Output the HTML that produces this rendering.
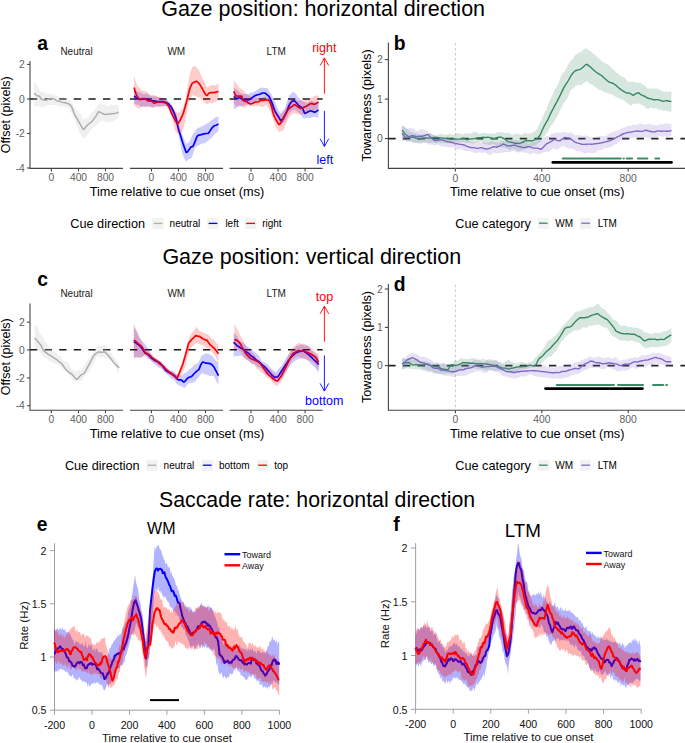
<!DOCTYPE html>
<html><head><meta charset="utf-8"><title>Figure</title>
<style>
html,body{margin:0;padding:0;background:#fff;}
body{width:685px;height:743px;overflow:hidden;}
svg{display:block;font-family:"Liberation Sans", sans-serif;}
</style></head>
<body>
<svg width="685" height="743" viewBox="0 0 685 743">
<rect width="685" height="743" fill="#fff"/>
<text x="161.2" y="16.4" font-size="21.5" text-anchor="start" fill="#000">Gaze position: horizontal direction</text>
<text x="162.4" y="263.8" font-size="21.5" text-anchor="start" fill="#000">Gaze position: vertical direction</text>
<text x="159" y="506.6" font-size="21.3" text-anchor="start" fill="#000">Saccade rate: horizontal direction</text>
<text x="37.3" y="50" font-size="19.3" text-anchor="start" fill="#000" font-weight="bold">a</text>
<text x="76.5" y="55.2" font-size="10" text-anchor="middle" fill="#1a1a1a">Neutral</text>
<text x="176.3" y="55.2" font-size="10" text-anchor="middle" fill="#1a1a1a">WM</text>
<text x="276.2" y="55.2" font-size="10" text-anchor="middle" fill="#1a1a1a">LTM</text>
<line x1="30" y1="61" x2="30" y2="168.9" stroke="#444444" stroke-width="1.1"/>
<line x1="27" y1="64.4" x2="30" y2="64.4" stroke="#444444" stroke-width="1.1"/>
<text x="24.8" y="68" font-size="10.3" text-anchor="end" fill="#606060">2</text>
<line x1="27" y1="99" x2="30" y2="99" stroke="#444444" stroke-width="1.1"/>
<text x="24.8" y="102.6" font-size="10.3" text-anchor="end" fill="#606060">0</text>
<line x1="27" y1="133.5" x2="30" y2="133.5" stroke="#444444" stroke-width="1.1"/>
<text x="24.8" y="137.1" font-size="10.3" text-anchor="end" fill="#606060">-2</text>
<line x1="27" y1="168" x2="30" y2="168" stroke="#444444" stroke-width="1.1"/>
<text x="24.8" y="171.6" font-size="10.3" text-anchor="end" fill="#606060">-4</text>
<line x1="30" y1="168.4" x2="123" y2="168.4" stroke="#444444" stroke-width="1.1"/>
<line x1="51.4" y1="168.4" x2="51.4" y2="171.4" stroke="#444444" stroke-width="1.1"/>
<text x="51.4" y="181.4" font-size="10.3" text-anchor="middle" fill="#606060">0</text>
<line x1="78.5" y1="168.4" x2="78.5" y2="171.4" stroke="#444444" stroke-width="1.1"/>
<text x="78.5" y="181.4" font-size="10.3" text-anchor="middle" fill="#606060">400</text>
<line x1="105.5" y1="168.4" x2="105.5" y2="171.4" stroke="#444444" stroke-width="1.1"/>
<text x="105.5" y="181.4" font-size="10.3" text-anchor="middle" fill="#606060">800</text>
<line x1="130" y1="168.4" x2="223" y2="168.4" stroke="#444444" stroke-width="1.1"/>
<line x1="151.4" y1="168.4" x2="151.4" y2="171.4" stroke="#444444" stroke-width="1.1"/>
<text x="151.4" y="181.4" font-size="10.3" text-anchor="middle" fill="#606060">0</text>
<line x1="178.5" y1="168.4" x2="178.5" y2="171.4" stroke="#444444" stroke-width="1.1"/>
<text x="178.5" y="181.4" font-size="10.3" text-anchor="middle" fill="#606060">400</text>
<line x1="205.5" y1="168.4" x2="205.5" y2="171.4" stroke="#444444" stroke-width="1.1"/>
<text x="205.5" y="181.4" font-size="10.3" text-anchor="middle" fill="#606060">800</text>
<line x1="229.6" y1="168.4" x2="322.6" y2="168.4" stroke="#444444" stroke-width="1.1"/>
<line x1="251" y1="168.4" x2="251" y2="171.4" stroke="#444444" stroke-width="1.1"/>
<text x="251" y="181.4" font-size="10.3" text-anchor="middle" fill="#606060">0</text>
<line x1="278.1" y1="168.4" x2="278.1" y2="171.4" stroke="#444444" stroke-width="1.1"/>
<text x="278.1" y="181.4" font-size="10.3" text-anchor="middle" fill="#606060">400</text>
<line x1="305.1" y1="168.4" x2="305.1" y2="171.4" stroke="#444444" stroke-width="1.1"/>
<text x="305.1" y="181.4" font-size="10.3" text-anchor="middle" fill="#606060">800</text>
<text x="177" y="195.5" font-size="12.75" text-anchor="middle" fill="#000">Time relative to cue onset (ms)</text>
<text transform="translate(9.7,114.7) rotate(-90)" font-size="12.5" text-anchor="middle" fill="#000">Offset (pixels)</text>
<line x1="30" y1="99" x2="123" y2="99" stroke="#1a1a1a" stroke-width="1.6" stroke-dasharray="7.3,7.3"/>
<line x1="130" y1="99" x2="223" y2="99" stroke="#1a1a1a" stroke-width="1.6" stroke-dasharray="7.3,7.3"/>
<line x1="229.6" y1="99" x2="322.6" y2="99" stroke="#1a1a1a" stroke-width="1.6" stroke-dasharray="7.3,7.3"/>
<polyline points="34.1,93.1 35.1,94.1 36.1,95 37.1,95.7 38.1,96 39.1,95.9 40.1,97.1 41.1,99.1 42.1,99.4 43.1,99.6 44.1,100 45.1,100.3 46.1,100.2 47.1,99.8 48.1,99.4 49.1,99 50.1,98.6 51.1,98.5 52.1,98.5 53.1,98.6 54.1,99.1 55.1,99.7 56.1,100.3 57.1,100.9 58.1,101.2 59.1,101.3 60.1,101.5 61.1,101.9 62.1,102.2 63.1,102.4 64.1,102.5 65.1,102.7 66.1,102.9 67.1,103.3 68.1,103.7 69.1,104 70.1,104.8 71.1,106.1 72.1,107.8 73.1,110.5 74.1,113.2 75.1,115.5 76.1,117.2 77.1,118.9 78.1,120.7 79.1,122.3 80.1,124 81.1,125.8 82.1,127.6 83.1,129.3 84.1,129.2 85.1,127.8 86.1,126.6 87.1,125.5 88.1,124.5 89.1,123.7 90.1,123 91.1,122.2 92.1,121.3 93.1,120 94.1,118.6 95.1,117.3 96.1,115.9 97.1,114 98.1,112.4 99.1,111.6 100.1,112.4 101.1,112.9 102.1,113.3 103.1,113.7 104.1,114.3 105.1,114.4 106.1,114.3 107.1,114.3 108.1,114.2 109.1,114.1 110.1,113.9 111.1,113.7 112.1,113.7 113.1,113.7 114.1,113.5 115.1,113.4 116.1,113.1 117.1,112.7 118.1,112.3 118.5,112.1" fill="none" stroke="#a6a6a6" stroke-width="1.5" stroke-linejoin="round" stroke-linecap="butt"/>
<polyline points="134.1,95.8 135.1,96.8 136.1,97.8 137.1,98.5 138.1,98.9 139.1,99.2 140.1,99.5 141.1,99.4 142.1,99.2 143.1,99.1 144.1,99 145.1,98.9 146.1,98.9 147.1,99.1 148.1,99.4 149.1,99.9 150.1,100.4 151.1,100.7 152.1,100.7 153.1,100.8 154.1,100.9 155.1,101.1 156.1,101.3 157.1,101.5 158.1,101.6 159.1,101.6 160.1,101.5 161.1,101.5 162.1,101.5 163.1,101.7 164.1,101.9 165.1,102.1 166.1,102.4 167.1,102.9 168.1,103.6 169.1,104.5 170.1,105.7 171.1,107 172.1,108.6 173.1,110.9 174.1,113.1 175.1,115.6 176.1,118.4 177.1,122.9 178.1,127.7 179.1,131.3 180.1,134.3 181.1,137.5 182.1,140.7 183.1,143.8 184.1,146.6 185.1,149.4 186.1,152.3 187.1,152.2 188.1,151 189.1,149.6 190.1,148.1 191.1,146.9 192.1,146.6 193.1,146.2 194.1,143.8 195.1,141.4 196.1,138.9 197.1,136.3 198.1,135.4 199.1,135.1 200.1,134.9 201.1,134.7 202.1,134.4 203.1,134 204.1,133.8 205.1,133.6 206.1,133.5 207.1,133.5 208.1,133.5 209.1,132.4 210.1,130.8 211.1,129.1 212.1,127.9 213.1,126.8 214.1,125.8 215.1,125.5 216.1,125.2 217.1,124.7 218.1,124.2 218.5,124.1" fill="none" stroke="#0000ff" stroke-width="1.7" stroke-linejoin="round" stroke-linecap="butt"/>
<polyline points="134.1,87.5 135.1,91.7 136.1,94.1 137.1,96.2 138.1,97.7 139.1,98.8 140.1,99.3 141.1,99 142.1,98.7 143.1,98.6 144.1,98.7 145.1,98.7 146.1,99.3 147.1,100.3 148.1,100.9 149.1,101 150.1,100.9 151.1,100.8 152.1,101.4 153.1,102.3 154.1,103.2 155.1,103 156.1,102.5 157.1,102 158.1,102.1 159.1,102.1 160.1,102.1 161.1,102.1 162.1,102.2 163.1,102.3 164.1,102.6 165.1,102.8 166.1,103 167.1,104.3 168.1,105.5 169.1,107 170.1,109.5 171.1,112.1 172.1,114.4 173.1,116.4 174.1,118.2 175.1,120.1 176.1,121.9 177.1,123.7 178.1,123.1 179.1,121.9 180.1,120.3 181.1,118.2 182.1,116.2 183.1,113.7 184.1,110.4 185.1,107.1 186.1,103.6 187.1,99.6 188.1,95.5 189.1,91.5 190.1,87.8 191.1,85.6 192.1,83.4 193.1,82.8 194.1,82.3 195.1,81.9 196.1,81.3 197.1,81.5 198.1,82.5 199.1,83.6 200.1,84.9 201.1,86.6 202.1,88.3 203.1,90.2 204.1,92 205.1,93.8 206.1,95.1 207.1,95.5 208.1,94.2 209.1,93 210.1,92.7 211.1,92.6 212.1,92.7 213.1,92.7 214.1,92.7 215.1,92.4 216.1,92.1 217.1,91.8 218.1,91.5 218.5,91.5" fill="none" stroke="#ff0000" stroke-width="1.7" stroke-linejoin="round" stroke-linecap="butt"/>
<polyline points="233.8,96.3 234.8,97.1 235.8,98 236.8,98.8 237.8,98.4 238.8,97.8 239.8,97.4 240.8,98.3 241.8,99.1 242.8,99.8 243.8,99.7 244.8,99.6 245.8,99.7 246.8,100 247.8,100 248.8,99.8 249.8,99.4 250.8,98.8 251.8,98 252.8,97.1 253.8,96.4 254.8,95.8 255.8,95.4 256.8,95 257.8,94.7 258.8,94.5 259.8,94.2 260.8,93.8 261.8,93.2 262.8,93 263.8,93 264.8,93.1 265.8,93.5 266.8,94.4 267.8,95.4 268.8,96.1 269.8,98 270.8,100.1 271.8,102.2 272.8,104.9 273.8,107.7 274.8,110.6 275.8,112.5 276.8,114.2 277.8,115.8 278.8,117.4 279.8,119.2 280.8,120.5 281.8,119.8 282.8,118.8 283.8,117.4 284.8,115.3 285.8,113.4 286.8,111.3 287.8,108.7 288.8,106.1 289.8,104.1 290.8,102.7 291.8,101.4 292.8,100.8 293.8,100.6 294.8,101 295.8,102.2 296.8,103.3 297.8,104.5 298.8,105.5 299.8,106.4 300.8,107 301.8,107.6 302.8,108.9 303.8,111.5 304.8,113.4 305.8,113 306.8,112.4 307.8,111.9 308.8,111.4 309.8,111 310.8,110.8 311.8,111 312.8,111.5 313.8,111.9 314.8,112.3 315.8,111.8 316.8,111.1 317.8,110.4 318.5,109.8" fill="none" stroke="#0000ff" stroke-width="1.7" stroke-linejoin="round" stroke-linecap="butt"/>
<polyline points="233.8,91.3 234.8,93.9 235.8,95.6 236.8,96 237.8,96.1 238.8,96 239.8,96 240.8,96.1 241.8,96.4 242.8,99.2 243.8,100.9 244.8,101.1 245.8,101.3 246.8,101.8 247.8,102.5 248.8,103.3 249.8,103.8 250.8,103.9 251.8,103.7 252.8,103.3 253.8,102.8 254.8,102.3 255.8,102 256.8,102 257.8,102 258.8,101.7 259.8,101.1 260.8,100.6 261.8,100.3 262.8,100.3 263.8,100.4 264.8,100.2 265.8,100 266.8,99.9 267.8,100 268.8,100.2 269.8,102 270.8,104 271.8,107.5 272.8,111.8 273.8,115.1 274.8,117.3 275.8,119.3 276.8,121 277.8,122.8 278.8,124.5 279.8,124.1 280.8,122.7 281.8,121.4 282.8,119.5 283.8,117.5 284.8,115.5 285.8,113.8 286.8,111.9 287.8,110 288.8,108.9 289.8,108 290.8,107.2 291.8,106.6 292.8,105.9 293.8,105 294.8,104.7 295.8,105.3 296.8,106.1 297.8,106.7 298.8,107.4 299.8,108.2 300.8,108.5 301.8,108.2 302.8,107.7 303.8,107.3 304.8,106.9 305.8,106.5 306.8,106 307.8,105.3 308.8,104.7 309.8,104.1 310.8,103.6 311.8,103.7 312.8,103.9 313.8,104.2 314.8,104.3 315.8,103.8 316.8,103.1 317.8,102.4 318.5,102.1" fill="none" stroke="#ff0000" stroke-width="1.7" stroke-linejoin="round" stroke-linecap="butt"/>
<polygon points="34.1,81.1 35.1,82.6 36.1,84.1 37.1,85.8 38.1,87.4 39.1,89.5 40.1,91.3 41.1,91.8 42.1,91.8 43.1,91.9 44.1,92.2 45.1,92.6 46.1,93.3 47.1,93.9 48.1,94.1 49.1,94 50.1,93.9 51.1,94 52.1,94.3 53.1,94.8 54.1,95.4 55.1,95.6 56.1,95.4 57.1,95.4 58.1,96 59.1,96.8 60.1,97.2 61.1,97.1 62.1,97 63.1,97.2 64.1,97.6 65.1,97.7 66.1,98 67.1,99 68.1,99.6 69.1,99.6 70.1,100.3 71.1,101.7 72.1,103.3 73.1,105 74.1,106.5 75.1,108 76.1,109.6 77.1,111 78.1,112 79.1,112.7 80.1,113.6 81.1,115.4 82.1,117.7 83.1,119.3 84.1,119.3 85.1,118.8 86.1,118.5 87.1,118.3 88.1,117.6 89.1,116 90.1,114 91.1,112.8 92.1,112.3 93.1,112.1 94.1,111.1 95.1,109.3 96.1,107.6 97.1,106.6 98.1,105.3 99.1,103.6 100.1,103.3 101.1,104.1 102.1,104.5 103.1,104.5 104.1,104.3 105.1,104.5 106.1,105.5 107.1,106.7 108.1,106.7 109.1,105.7 110.1,104.7 111.1,104.3 112.1,104.7 113.1,105.2 114.1,105.3 115.1,105 116.1,104.7 117.1,104.8 118.1,105.2 118.5,105.5 118.5,119 118.1,118.6 117.1,118.9 116.1,119.6 115.1,120.3 114.1,121 113.1,121.6 112.1,121.9 111.1,121.8 110.1,121.7 109.1,121.8 108.1,122.3 107.1,122.7 106.1,122.4 105.1,121.8 104.1,120.9 103.1,120.4 102.1,120.5 101.1,121 100.1,121.5 99.1,122.1 98.1,123.2 97.1,124.3 96.1,125.5 95.1,126.3 94.1,126.6 93.1,127.4 92.1,128.5 91.1,129.6 90.1,131 89.1,132.5 88.1,133.7 87.1,135.2 86.1,137 85.1,138.2 84.1,138.7 83.1,138.1 82.1,136.4 81.1,135 80.1,133.2 79.1,131.1 78.1,128.6 77.1,126.4 76.1,124.2 75.1,121.7 74.1,119 73.1,116.3 72.1,114.4 71.1,112.6 70.1,110.7 69.1,108.8 68.1,108.1 67.1,107.6 66.1,107.4 65.1,107.2 64.1,106.9 63.1,106.6 62.1,106.5 61.1,106.6 60.1,106.6 59.1,106.4 58.1,105.8 57.1,105.2 56.1,105 55.1,105 54.1,104.9 53.1,104.9 52.1,105 51.1,105.2 50.1,105.2 49.1,105.3 48.1,105.4 47.1,105.5 46.1,105.9 45.1,106.6 44.1,107.2 43.1,107.6 42.1,107.5 41.1,107 40.1,106.7 39.1,106.4 38.1,106.3 37.1,106.2 36.1,106.3 35.1,106.7 34.1,107" fill="#c4c4c4" fill-opacity="0.25" stroke="none"/>
<polygon points="134.1,89.9 135.1,90.2 136.1,90.4 137.1,90.9 138.1,91.4 139.1,91.8 140.1,92.3 141.1,93.1 142.1,93.8 143.1,94.1 144.1,94 145.1,94 146.1,93.8 147.1,93.6 148.1,94.1 149.1,95 150.1,95.8 151.1,96.3 152.1,96.4 153.1,96.2 154.1,96.2 155.1,96.2 156.1,96.3 157.1,96.7 158.1,97.4 159.1,97.8 160.1,97.6 161.1,97.6 162.1,98 163.1,98.5 164.1,98.7 165.1,98.7 166.1,98.6 167.1,99.5 168.1,101 169.1,102.6 170.1,103.7 171.1,104.4 172.1,105.6 173.1,107.4 174.1,109 175.1,110.9 176.1,113 177.1,117.1 178.1,121.1 179.1,124.5 180.1,127.8 181.1,131 182.1,134 183.1,136.3 184.1,138.9 185.1,141.8 186.1,143.5 187.1,143.3 188.1,142.8 189.1,142.1 190.1,140.2 191.1,138.1 192.1,135.8 193.1,133.4 194.1,131.9 195.1,130.9 196.1,129.6 197.1,128.5 198.1,127.8 199.1,127.4 200.1,127.2 201.1,126.6 202.1,126.1 203.1,125.9 204.1,125.4 205.1,124.6 206.1,123.9 207.1,123.5 208.1,123 209.1,122.2 210.1,121.4 211.1,120.6 212.1,120 213.1,119.2 214.1,118.4 215.1,117.4 216.1,116.9 217.1,116.9 218.1,117 218.5,117 218.5,131 218.1,131.6 217.1,132.3 216.1,133 215.1,133.8 214.1,134.8 213.1,136 212.1,137.1 211.1,138.2 210.1,139 209.1,139.7 208.1,140.6 207.1,141.4 206.1,142.1 205.1,143 204.1,143.6 203.1,143.6 202.1,143.6 201.1,144.1 200.1,144.7 199.1,145.2 198.1,145.6 197.1,146.1 196.1,146.7 195.1,147.4 194.1,150.4 193.1,153.6 192.1,156.9 191.1,158.1 190.1,158.7 189.1,158.9 188.1,159.6 187.1,161 186.1,161.7 185.1,159.9 184.1,158 183.1,156.1 182.1,152.2 181.1,147.1 180.1,142.1 179.1,137.2 178.1,133.2 177.1,129.2 176.1,125.1 175.1,122.3 174.1,119.9 173.1,118.1 172.1,116.3 171.1,114.3 170.1,112.2 169.1,109.7 168.1,107.2 167.1,105.8 166.1,106 165.1,106.1 164.1,106.1 163.1,106 162.1,105.9 161.1,106.2 160.1,106.6 159.1,106.7 158.1,106.5 157.1,106.1 156.1,106 155.1,106.4 154.1,107 153.1,107.4 152.1,107.2 151.1,106.8 150.1,106.5 149.1,106.6 148.1,106.5 147.1,106.4 146.1,106.5 145.1,106.9 144.1,106.9 143.1,106.8 142.1,107 141.1,106.9 140.1,106.2 139.1,105.1 138.1,104.7 137.1,104.7 136.1,104.5 135.1,104 134.1,103.6" fill="#0000ff" fill-opacity="0.2" stroke="none"/>
<polygon points="134.1,75.7 135.1,78.9 136.1,82.4 137.1,85.2 138.1,86.5 139.1,87.6 140.1,89 141.1,90.5 142.1,90.8 143.1,91 144.1,90.9 145.1,91 146.1,91.4 147.1,92 148.1,92.9 149.1,94 150.1,94.9 151.1,95.3 152.1,95 153.1,94.7 154.1,94.8 155.1,95.3 156.1,95.9 157.1,96.5 158.1,96.6 159.1,96.7 160.1,97.3 161.1,97.9 162.1,98.3 163.1,98.6 164.1,98.9 165.1,99.2 166.1,99.6 167.1,100.6 168.1,101.4 169.1,102.1 170.1,102.8 171.1,104.2 172.1,105.8 173.1,107.4 174.1,109 175.1,110.8 176.1,112 177.1,112.8 178.1,112.8 179.1,112.5 180.1,112.1 181.1,110.7 182.1,108.9 183.1,107 184.1,104.1 185.1,100.7 186.1,95.5 187.1,90.2 188.1,84.2 189.1,77.4 190.1,73.2 191.1,70.2 192.1,67.2 193.1,66.6 194.1,66.2 195.1,66 196.1,66.9 197.1,67.9 198.1,68.8 199.1,70.6 200.1,72.8 201.1,75.4 202.1,77.7 203.1,79.5 204.1,81.1 205.1,83.4 206.1,85.8 207.1,87.2 208.1,86.7 209.1,86.2 210.1,85.9 211.1,85.4 212.1,85 213.1,85.1 214.1,85.4 215.1,85.4 216.1,84.9 217.1,84.3 218.1,83.7 218.5,83.4 218.5,100.6 218.1,100.8 217.1,101.2 216.1,101.6 215.1,102 214.1,102.4 213.1,102.8 212.1,103.3 211.1,103.5 210.1,103.1 209.1,103.1 208.1,103.8 207.1,104.4 206.1,103.7 205.1,102.9 204.1,102.4 203.1,101.5 202.1,100.6 201.1,99.5 200.1,98.2 199.1,97.6 198.1,97.4 197.1,96.8 196.1,96.2 195.1,95.5 194.1,95.5 193.1,95.4 192.1,96 191.1,97.3 190.1,99.3 189.1,101.7 188.1,106.4 187.1,111.2 186.1,116.6 185.1,122.1 184.1,126.3 183.1,130.3 182.1,132.1 181.1,133.1 180.1,134 179.1,133.9 178.1,133.8 177.1,133.5 176.1,132.5 175.1,130.8 174.1,127.1 173.1,122.2 172.1,117.9 171.1,114.7 170.1,112.7 169.1,110.5 168.1,108.8 167.1,107.9 166.1,106.6 165.1,106.2 164.1,106.2 163.1,106.5 162.1,106.6 161.1,106.7 160.1,106.9 159.1,107.1 158.1,107 157.1,106.8 156.1,106.9 155.1,107.3 154.1,107.4 153.1,107.4 152.1,107.8 151.1,107.9 150.1,107.3 149.1,106.6 148.1,106.6 147.1,106.9 146.1,106.9 145.1,106.6 144.1,106.3 143.1,106 142.1,106 141.1,106.9 140.1,107.9 139.1,108.4 138.1,108.3 137.1,107.4 136.1,107 135.1,106.3 134.1,104.7" fill="#ff0000" fill-opacity="0.2" stroke="none"/>
<polygon points="233.8,87.3 234.8,88.1 235.8,88.8 236.8,89.5 237.8,90.5 238.8,91.6 239.8,92.6 240.8,93.2 241.8,93.7 242.8,94.1 243.8,94.3 244.8,94 245.8,93.8 246.8,94.1 247.8,94.3 248.8,93.9 249.8,93.1 250.8,92.5 251.8,92.5 252.8,92.4 253.8,91.9 254.8,91.3 255.8,90.8 256.8,90.3 257.8,89.6 258.8,88.8 259.8,87.9 260.8,87.4 261.8,87.4 262.8,87.8 263.8,87.9 264.8,88 265.8,88.1 266.8,88.1 267.8,88.6 268.8,90 269.8,91.9 270.8,93.8 271.8,95.3 272.8,97.6 273.8,99.9 274.8,102.1 275.8,104.4 276.8,106.6 277.8,108.6 278.8,110.3 279.8,112.1 280.8,113.3 281.8,112 282.8,110.7 283.8,109.6 284.8,108.2 285.8,105.3 286.8,102.2 287.8,99.4 288.8,96.6 289.8,94.8 290.8,94 291.8,93 292.8,91.7 293.8,92.1 294.8,92.7 295.8,93.7 296.8,95.1 297.8,96.6 298.8,97.9 299.8,99 300.8,100.1 301.8,100.6 302.8,101.1 303.8,101.7 304.8,102.3 305.8,102.7 306.8,103.2 307.8,102.8 308.8,102 309.8,101.4 310.8,101 311.8,101 312.8,101.4 313.8,102.1 314.8,102.3 315.8,102.2 316.8,102.2 317.8,102.4 318.5,102.6 318.5,117.1 317.8,117.4 316.8,117.4 315.8,117.2 314.8,116.9 313.8,116.8 312.8,116.9 311.8,117.3 310.8,117.8 309.8,118.1 308.8,118 307.8,117.9 306.8,117.9 305.8,118.1 304.8,118.6 303.8,119.1 302.8,118 301.8,116.2 300.8,114.7 299.8,113.8 298.8,113.1 297.8,112.1 296.8,111.3 295.8,110.6 294.8,109.7 293.8,109 292.8,110 291.8,111.1 290.8,111.9 289.8,112.6 288.8,114.1 287.8,116.3 286.8,118.5 285.8,120.3 284.8,121.9 283.8,122.7 282.8,123.3 281.8,123.9 280.8,123.8 279.8,122.7 278.8,121.4 277.8,120 276.8,117.8 275.8,115.9 274.8,114 273.8,111.7 272.8,109.5 271.8,108 270.8,106.2 269.8,103.9 268.8,101.4 267.8,100.5 266.8,99.5 265.8,98.8 264.8,98.5 263.8,98.5 262.8,99 261.8,99.9 260.8,100.3 259.8,100.3 258.8,100.6 257.8,101.1 256.8,101.2 255.8,101.4 254.8,102.2 253.8,103.4 252.8,104.1 251.8,103.9 250.8,103.3 249.8,103.3 248.8,103.7 247.8,104.2 246.8,104.6 245.8,104.6 244.8,104.8 243.8,105.4 242.8,105.9 241.8,105.9 240.8,105.9 239.8,105.8 238.8,106.1 237.8,106.8 236.8,107.8 235.8,108.6 234.8,108.9 233.8,109" fill="#0000ff" fill-opacity="0.2" stroke="none"/>
<polygon points="233.8,80.3 234.8,81.6 235.8,82.9 236.8,84.2 237.8,85.6 238.8,86.8 239.8,87.9 240.8,88.7 241.8,89.3 242.8,90.1 243.8,91.1 244.8,92.3 245.8,93.5 246.8,94.4 247.8,94.8 248.8,95.2 249.8,96.1 250.8,96.6 251.8,97.3 252.8,97.8 253.8,97.7 254.8,97.3 255.8,97.5 256.8,98 257.8,98 258.8,98 259.8,98.3 260.8,98.5 261.8,98.1 262.8,97.4 263.8,96.8 264.8,96.6 265.8,96.6 266.8,96.9 267.8,97.4 268.8,98 269.8,98.9 270.8,100.7 271.8,102.9 272.8,104.5 273.8,106.2 274.8,108.3 275.8,110.5 276.8,112.4 277.8,113.9 278.8,115.2 279.8,114.9 280.8,114.2 281.8,113.7 282.8,112.7 283.8,111.3 284.8,109.4 285.8,107.6 286.8,105.7 287.8,103.4 288.8,101.9 289.8,100.6 290.8,99.9 291.8,99.1 292.8,98.8 293.8,99.2 294.8,99.7 295.8,100.1 296.8,100.3 297.8,100.5 298.8,100.6 299.8,100.5 300.8,100.3 301.8,100.4 302.8,100.7 303.8,100.5 304.8,100.3 305.8,100 306.8,99.4 307.8,98.8 308.8,98.4 309.8,98.1 310.8,98 311.8,97.6 312.8,96.9 313.8,96.5 314.8,96.1 315.8,95.6 316.8,95.4 317.8,95.3 318.5,95.2 318.5,107.6 317.8,108.4 316.8,109.5 315.8,110 314.8,110.3 313.8,110.6 312.8,110.7 311.8,110.6 310.8,110.5 309.8,110.8 308.8,111.8 307.8,112.8 306.8,113.3 305.8,113.5 304.8,113.7 303.8,114.2 302.8,114.4 301.8,114.7 300.8,114.9 299.8,114.6 298.8,114.1 297.8,113.9 296.8,113.9 295.8,113.7 294.8,113.5 293.8,113.5 292.8,113.7 291.8,114.3 290.8,115.7 289.8,116.8 288.8,118 287.8,119.8 286.8,122.4 285.8,124.6 284.8,126.9 283.8,129.4 282.8,130.5 281.8,130.8 280.8,131.2 279.8,131.8 278.8,131.7 277.8,130 276.8,128.4 275.8,126.2 274.8,123.6 273.8,121 272.8,118.1 271.8,115 270.8,112.2 269.8,110.3 268.8,108.9 267.8,107.4 266.8,105.8 265.8,104.7 264.8,105.5 263.8,106.3 262.8,106.8 261.8,106.9 260.8,106.8 259.8,106.5 258.8,106.1 257.8,105.7 256.8,105.7 255.8,106.1 254.8,106.6 253.8,106.5 252.8,106.2 251.8,106.4 250.8,106.5 249.8,106 248.8,105.6 247.8,105.6 246.8,106.2 245.8,107.2 244.8,107.8 243.8,107.7 242.8,107.2 241.8,106.7 240.8,106.4 239.8,106.3 238.8,106.5 237.8,106.6 236.8,106.3 235.8,105.4 234.8,104.5 233.8,104" fill="#ff0000" fill-opacity="0.2" stroke="none"/>
<line x1="324.4" y1="57.9" x2="324.4" y2="93.8" stroke="#ff0000" stroke-width="0.9"/>
<polyline points="320.1,65.6 324.4,57.9 328.7,65.6" fill="none" stroke="#ff0000" stroke-width="0.9" stroke-linejoin="round" stroke-linecap="butt"/>
<line x1="324.4" y1="110.8" x2="324.4" y2="146.4" stroke="#0000ff" stroke-width="0.9"/>
<polyline points="320.1,138.7 324.4,146.4 328.7,138.7" fill="none" stroke="#0000ff" stroke-width="0.9" stroke-linejoin="round" stroke-linecap="butt"/>
<text x="324.3" y="52" font-size="12.5" text-anchor="middle" fill="#ff0000">right</text>
<text x="324.8" y="164" font-size="12.5" text-anchor="middle" fill="#0000ff">left</text>
<text x="37.3" y="286.1" font-size="19.3" text-anchor="start" fill="#000" font-weight="bold">c</text>
<text x="76.5" y="297.3" font-size="10" text-anchor="middle" fill="#1a1a1a">Neutral</text>
<text x="176.3" y="297.3" font-size="10" text-anchor="middle" fill="#1a1a1a">WM</text>
<text x="276.2" y="297.3" font-size="10" text-anchor="middle" fill="#1a1a1a">LTM</text>
<line x1="30" y1="303.5" x2="30" y2="410.7" stroke="#444444" stroke-width="1.1"/>
<line x1="27" y1="322.1" x2="30" y2="322.1" stroke="#444444" stroke-width="1.1"/>
<text x="24.8" y="325.7" font-size="10.3" text-anchor="end" fill="#606060">2</text>
<line x1="27" y1="349.9" x2="30" y2="349.9" stroke="#444444" stroke-width="1.1"/>
<text x="24.8" y="353.5" font-size="10.3" text-anchor="end" fill="#606060">0</text>
<line x1="27" y1="377.9" x2="30" y2="377.9" stroke="#444444" stroke-width="1.1"/>
<text x="24.8" y="381.5" font-size="10.3" text-anchor="end" fill="#606060">-2</text>
<line x1="27" y1="405.7" x2="30" y2="405.7" stroke="#444444" stroke-width="1.1"/>
<text x="24.8" y="409.3" font-size="10.3" text-anchor="end" fill="#606060">-4</text>
<line x1="30" y1="410.2" x2="123" y2="410.2" stroke="#444444" stroke-width="1.1"/>
<line x1="51.4" y1="410.2" x2="51.4" y2="413.2" stroke="#444444" stroke-width="1.1"/>
<text x="51.4" y="423.4" font-size="10.3" text-anchor="middle" fill="#606060">0</text>
<line x1="78.5" y1="410.2" x2="78.5" y2="413.2" stroke="#444444" stroke-width="1.1"/>
<text x="78.5" y="423.4" font-size="10.3" text-anchor="middle" fill="#606060">400</text>
<line x1="105.5" y1="410.2" x2="105.5" y2="413.2" stroke="#444444" stroke-width="1.1"/>
<text x="105.5" y="423.4" font-size="10.3" text-anchor="middle" fill="#606060">800</text>
<line x1="130" y1="410.2" x2="223" y2="410.2" stroke="#444444" stroke-width="1.1"/>
<line x1="151.4" y1="410.2" x2="151.4" y2="413.2" stroke="#444444" stroke-width="1.1"/>
<text x="151.4" y="423.4" font-size="10.3" text-anchor="middle" fill="#606060">0</text>
<line x1="178.5" y1="410.2" x2="178.5" y2="413.2" stroke="#444444" stroke-width="1.1"/>
<text x="178.5" y="423.4" font-size="10.3" text-anchor="middle" fill="#606060">400</text>
<line x1="205.5" y1="410.2" x2="205.5" y2="413.2" stroke="#444444" stroke-width="1.1"/>
<text x="205.5" y="423.4" font-size="10.3" text-anchor="middle" fill="#606060">800</text>
<line x1="229.6" y1="410.2" x2="322.6" y2="410.2" stroke="#444444" stroke-width="1.1"/>
<line x1="251" y1="410.2" x2="251" y2="413.2" stroke="#444444" stroke-width="1.1"/>
<text x="251" y="423.4" font-size="10.3" text-anchor="middle" fill="#606060">0</text>
<line x1="278.1" y1="410.2" x2="278.1" y2="413.2" stroke="#444444" stroke-width="1.1"/>
<text x="278.1" y="423.4" font-size="10.3" text-anchor="middle" fill="#606060">400</text>
<line x1="305.1" y1="410.2" x2="305.1" y2="413.2" stroke="#444444" stroke-width="1.1"/>
<text x="305.1" y="423.4" font-size="10.3" text-anchor="middle" fill="#606060">800</text>
<text x="177" y="438" font-size="12.75" text-anchor="middle" fill="#000">Time relative to cue onset (ms)</text>
<text transform="translate(9.7,356.7) rotate(-90)" font-size="12.5" text-anchor="middle" fill="#000">Offset (pixels)</text>
<line x1="30" y1="349.7" x2="123" y2="349.7" stroke="#1a1a1a" stroke-width="1.6" stroke-dasharray="7.3,7.3"/>
<line x1="130" y1="349.7" x2="223" y2="349.7" stroke="#1a1a1a" stroke-width="1.6" stroke-dasharray="7.3,7.3"/>
<line x1="229.6" y1="349.7" x2="322.6" y2="349.7" stroke="#1a1a1a" stroke-width="1.6" stroke-dasharray="7.3,7.3"/>
<polyline points="34.7,337.9 35.7,339 36.7,340.2 37.7,341.4 38.7,342.5 39.7,343.7 40.7,344.7 41.7,346.7 42.7,349 43.7,350.9 44.7,351.6 45.7,352.3 46.7,353.1 47.7,353.9 48.7,354.6 49.7,355.1 50.7,355.6 51.7,356.3 52.7,357 53.7,357.7 54.7,358.3 55.7,359 56.7,359.7 57.7,360.5 58.7,361.3 59.7,362 60.7,362.6 61.7,363.7 62.7,365 63.7,366.5 64.7,367.9 65.7,369.2 66.7,370.3 67.7,371.2 68.7,372.1 69.7,372.9 70.7,373.4 71.7,374 72.7,375 73.7,376.3 74.7,377.6 75.7,378.7 76.7,379.5 77.7,378.7 78.7,377.5 79.7,376.4 80.7,375.3 81.7,374.7 82.7,374.2 83.7,373.7 84.7,372.6 85.7,370.7 86.7,368.8 87.7,366.9 88.7,365.1 89.7,363.3 90.7,361.4 91.7,359.5 92.7,357.7 93.7,355.9 94.7,354.5 95.7,353.7 96.7,353 97.7,352.3 98.7,352.1 99.7,352.1 100.7,352.2 101.7,352.4 102.7,352.1 103.7,351.7 104.7,352 105.7,352.9 106.7,353.8 107.7,354.8 108.7,356 109.7,357.2 110.7,358.4 111.7,359.7 112.7,361.1 113.7,362.4 114.7,363.6 115.7,364.5 116.7,365.4 117.7,366.4 118.7,367.4 119.1,367.9" fill="none" stroke="#a6a6a6" stroke-width="1.5" stroke-linejoin="round" stroke-linecap="butt"/>
<polyline points="133.8,341.7 134.8,342.2 135.8,342.8 136.8,343.5 137.8,344.3 138.8,345.1 139.8,345.8 140.8,346.8 141.8,348.3 142.8,349.7 143.8,351.4 144.8,352.9 145.8,353.3 146.8,353.8 147.8,354.4 148.8,355.3 149.8,356.4 150.8,357.5 151.8,358.3 152.8,359.1 153.8,359.8 154.8,360.5 155.8,361 156.8,361.3 157.8,361.8 158.8,362.3 159.8,363 160.8,363.9 161.8,365 162.8,366.3 163.8,367.6 164.8,369.1 165.8,370.4 166.8,371.2 167.8,371.8 168.8,372.4 169.8,372.9 170.8,373.5 171.8,374.1 172.8,374.6 173.8,375.2 174.8,376 175.8,377.3 176.8,378.6 177.8,379.5 178.8,379.9 179.8,379.8 180.8,379.8 181.8,380.3 182.8,381.3 183.8,382 184.8,381.5 185.8,380.2 186.8,379 187.8,378.1 188.8,377.3 189.8,377.1 190.8,376.7 191.8,376.2 192.8,375.1 193.8,374 194.8,373 195.8,372 196.8,371.2 197.8,370.4 198.8,369.6 199.8,367.3 200.8,364.9 201.8,363.1 202.8,362 203.8,362.3 204.8,362.8 205.8,363.1 206.8,363.2 207.8,363.3 208.8,363.4 209.8,363.6 210.8,363.9 211.8,364.7 212.8,365.7 213.8,366.8 214.8,368.6 215.8,370.5 216.8,372.3 217.8,374.3 218.5,375.7" fill="none" stroke="#0000ff" stroke-width="1.7" stroke-linejoin="round" stroke-linecap="butt"/>
<polyline points="133.8,340.1 134.8,340.8 135.8,341.5 136.8,342.3 137.8,343.3 138.8,344.2 139.8,344.9 140.8,345.7 141.8,346.8 142.8,348.2 143.8,350.1 144.8,352.1 145.8,352.8 146.8,353.4 147.8,354 148.8,354.6 149.8,355.4 150.8,356.3 151.8,357.3 152.8,358.2 153.8,358.9 154.8,359.4 155.8,360.1 156.8,360.9 157.8,361.9 158.8,363 159.8,363.9 160.8,364.6 161.8,365.2 162.8,366 163.8,366.9 164.8,368 165.8,369.2 166.8,370.1 167.8,371 168.8,371.7 169.8,372.4 170.8,373 171.8,373.8 172.8,374.8 173.8,375.7 174.8,376.5 175.8,377.5 176.8,378.4 177.8,376.4 178.8,374.1 179.8,371.9 180.8,369.3 181.8,366.8 182.8,364.2 183.8,360.8 184.8,357.3 185.8,353.8 186.8,350 187.8,346.3 188.8,343.1 189.8,341.8 190.8,340.6 191.8,339.5 192.8,338.5 193.8,337.5 194.8,336.5 195.8,335.6 196.8,335.9 197.8,336.1 198.8,336.3 199.8,336.6 200.8,337.3 201.8,338 202.8,338.7 203.8,339.2 204.8,339.6 205.8,339.9 206.8,340.1 207.8,341.5 208.8,342.9 209.8,344.2 210.8,345.4 211.8,346.2 212.8,347.1 213.8,347.9 214.8,348.9 215.8,350.3 216.8,351.6 217.8,353 218.5,353.8" fill="none" stroke="#ff0000" stroke-width="1.7" stroke-linejoin="round" stroke-linecap="butt"/>
<polyline points="233.6,342.1 234.6,343.1 235.6,344.1 236.6,345.1 237.6,346 238.6,346.5 239.6,347.2 240.6,347.9 241.6,348.5 242.6,349 243.6,349.7 244.6,350.6 245.6,351.4 246.6,352.1 247.6,352.7 248.6,353.4 249.6,354.3 250.6,355.3 251.6,356.1 252.6,356.8 253.6,357.5 254.6,358.4 255.6,359.3 256.6,360.1 257.6,360.8 258.6,361.5 259.6,362.4 260.6,363.3 261.6,364.2 262.6,365.1 263.6,365.9 264.6,366.7 265.6,367.7 266.6,368.8 267.6,370 268.6,371.2 269.6,372.4 270.6,373.5 271.6,374.6 272.6,375.6 273.6,376.5 274.6,377.3 275.6,377.1 276.6,377 277.6,376.9 278.6,375.6 279.6,374 280.6,372.5 281.6,370.9 282.6,369.4 283.6,367.9 284.6,366.4 285.6,364.8 286.6,363.4 287.6,362 288.6,360.6 289.6,359.1 290.6,357.6 291.6,356.6 292.6,355.7 293.6,354.8 294.6,353.8 295.6,352.9 296.6,352.6 297.6,352.2 298.6,351.8 299.6,351.4 300.6,351.3 301.6,351.1 302.6,351 303.6,351.1 304.6,351.7 305.6,352.4 306.6,353.2 307.6,353.9 308.6,354.7 309.6,355.6 310.6,356.5 311.6,357.4 312.6,358.4 313.6,359.4 314.6,360.4 315.6,361.3 316.6,362.2 317.6,363.3 318.6,364.5 318.7,364.7" fill="none" stroke="#0000ff" stroke-width="1.7" stroke-linejoin="round" stroke-linecap="butt"/>
<polyline points="234.4,339.7 235.4,339.9 236.4,340.1 237.4,340.7 238.4,341.6 239.4,342.5 240.4,343.9 241.4,345.8 242.4,347.6 243.4,349.3 244.4,351.1 245.4,353.1 246.4,354.4 247.4,355.4 248.4,356.5 249.4,357.4 250.4,358.3 251.4,358.8 252.4,359.2 253.4,359.6 254.4,360 255.4,360.5 256.4,361 257.4,361.5 258.4,362.1 259.4,362.8 260.4,363.6 261.4,365.1 262.4,366.5 263.4,367.9 264.4,369.3 265.4,370.6 266.4,372 267.4,373.5 268.4,374.8 269.4,375.6 270.4,376.3 271.4,377.2 272.4,378.2 273.4,379 274.4,379.6 275.4,380.2 276.4,380.7 277.4,381 278.4,380.2 279.4,378.6 280.4,377.2 281.4,375.7 282.4,373.8 283.4,371.9 284.4,370 285.4,367.9 286.4,365.8 287.4,363.8 288.4,361.7 289.4,359.8 290.4,357.9 291.4,356.1 292.4,354.3 293.4,353.1 294.4,352.7 295.4,352.2 296.4,351.5 297.4,350.9 298.4,350.7 299.4,350.7 300.4,350.8 301.4,350.8 302.4,351 303.4,351.2 304.4,351.4 305.4,351.7 306.4,352 307.4,352.4 308.4,352.9 309.4,353.4 310.4,353.8 311.4,354.3 312.4,355 313.4,355.7 314.4,356.3 315.4,356.9 316.4,358.5 317.4,360.2 318.4,361.9 318.7,362.4" fill="none" stroke="#ff0000" stroke-width="1.7" stroke-linejoin="round" stroke-linecap="butt"/>
<polygon points="34.7,323.7 35.7,325.3 36.7,326.5 37.7,327.9 38.7,330 39.7,332.2 40.7,333.8 41.7,335.2 42.7,336.8 43.7,338.6 44.7,340.5 45.7,341.9 46.7,343.3 47.7,345.1 48.7,346.8 49.7,348.2 50.7,348.8 51.7,349.9 52.7,351 53.7,351.4 54.7,351.7 55.7,352.4 56.7,353.7 57.7,355.3 58.7,356.1 59.7,356.2 60.7,356.8 61.7,358.3 62.7,359.9 63.7,360.9 64.7,361.4 65.7,361.6 66.7,362 67.7,362.6 68.7,363.9 69.7,365.6 70.7,367.3 71.7,368.6 72.7,369.4 73.7,370.2 74.7,371.3 75.7,371.3 76.7,370.7 77.7,370 78.7,370 79.7,370 80.7,369.5 81.7,369.2 82.7,368.1 83.7,366.4 84.7,364.5 85.7,362.9 86.7,361.6 87.7,360.6 88.7,359.6 89.7,358.3 90.7,356.4 91.7,354.5 92.7,353.3 93.7,352.2 94.7,350.9 95.7,349 96.7,347 97.7,346.4 98.7,346.1 99.7,345.5 100.7,345.2 101.7,345.5 102.7,345.4 103.7,344.8 104.7,344.9 105.7,345.9 106.7,347.3 107.7,348.9 108.7,350.1 109.7,351.2 110.7,352.4 111.7,353.6 112.7,354.9 113.7,356.4 114.7,357.6 115.7,358.9 116.7,360.3 117.7,361.5 118.7,362.6 119.1,363.1 119.1,373.7 118.7,373.1 117.7,371.3 116.7,369.2 115.7,367.6 114.7,366.2 113.7,364.4 112.7,362.4 111.7,360.9 110.7,360.5 109.7,360.1 108.7,359.8 107.7,359.4 106.7,359 105.7,358.7 104.7,357.9 103.7,357.1 102.7,356.9 101.7,357.2 100.7,357.7 99.7,357.7 98.7,357 97.7,356.2 96.7,356.3 95.7,358.8 94.7,361.3 93.7,363.1 92.7,364.8 91.7,366.8 90.7,368.8 89.7,370.7 88.7,372 87.7,373 86.7,374.1 85.7,375.3 84.7,376.5 83.7,377.8 82.7,379.2 81.7,380.3 80.7,380.4 79.7,380.4 78.7,380.6 77.7,380.6 76.7,380.4 75.7,380.2 74.7,380.6 73.7,380.5 72.7,379.8 71.7,378.5 70.7,376.8 69.7,375.3 68.7,374 67.7,372.6 66.7,371.5 65.7,370.8 64.7,370.3 63.7,369.4 62.7,368.4 61.7,367.5 60.7,366.9 59.7,366 58.7,365.1 57.7,364.4 56.7,364.1 55.7,363.8 54.7,363.3 53.7,362.8 52.7,362.2 51.7,361.9 50.7,361.8 49.7,361.2 48.7,359.9 47.7,358.9 46.7,358.3 45.7,358 44.7,357.6 43.7,356.7 42.7,355.8 41.7,354.7 40.7,353.2 39.7,352 38.7,351 37.7,350.1 36.7,349.2 35.7,348.4 34.7,347.5" fill="#c4c4c4" fill-opacity="0.25" stroke="none"/>
<polygon points="133.8,326.7 134.8,328.5 135.8,330.3 136.8,332.1 137.8,333.9 138.8,336 139.8,338.2 140.8,339.6 141.8,340.7 142.8,341.6 143.8,342.7 144.8,343.8 145.8,344.9 146.8,346.3 147.8,347.8 148.8,349.2 149.8,350.9 150.8,352.9 151.8,355.1 152.8,356.7 153.8,357.2 154.8,358 155.8,359 156.8,359.5 157.8,359.9 158.8,360.7 159.8,361.8 160.8,362.9 161.8,363.9 162.8,364.5 163.8,364.9 164.8,365.4 165.8,366.4 166.8,367.4 167.8,368.3 168.8,369.1 169.8,370.2 170.8,370.7 171.8,370.8 172.8,371 173.8,371.8 174.8,372.8 175.8,373.8 176.8,374.4 177.8,374.5 178.8,374.8 179.8,375.3 180.8,375.8 181.8,375.2 182.8,374.2 183.8,373.5 184.8,373.2 185.8,372.8 186.8,371.9 187.8,370.8 188.8,370 189.8,369.3 190.8,368.5 191.8,367.4 192.8,366.4 193.8,365.3 194.8,364.4 195.8,364.1 196.8,363.7 197.8,363.2 198.8,361.7 199.8,359.5 200.8,357.1 201.8,355.3 202.8,354.6 203.8,354.7 204.8,354 205.8,353.4 206.8,353.4 207.8,353.7 208.8,354.1 209.8,354.5 210.8,354.9 211.8,355.6 212.8,356.5 213.8,357.7 214.8,359 215.8,360.3 216.8,361.3 217.8,362.1 218.5,362.6 218.5,384.5 217.8,383.5 216.8,382.2 215.8,380.3 214.8,378.1 213.8,376.3 212.8,375.9 211.8,376 210.8,376.1 209.8,375.9 208.8,375.4 207.8,375 206.8,374.7 205.8,374.6 204.8,374.4 203.8,374 202.8,373.1 201.8,373.5 200.8,374.6 199.8,375.7 198.8,376.9 197.8,378.2 196.8,379.4 195.8,380.7 194.8,381.8 193.8,382.3 192.8,382.7 191.8,382.8 190.8,382.6 189.8,382.9 188.8,383.4 187.8,383.8 186.8,385.2 185.8,386.7 184.8,387.7 183.8,387.7 182.8,387.1 181.8,386.5 180.8,385.9 179.8,385.4 178.8,385.1 177.8,384.7 176.8,384 175.8,382.5 174.8,380.7 173.8,379.6 172.8,379.3 171.8,379.1 170.8,378.2 169.8,376.9 168.8,375.8 167.8,375.1 166.8,374.3 165.8,373.1 164.8,372 163.8,371.2 162.8,370.1 161.8,369.1 160.8,368.5 159.8,368.2 158.8,367.6 157.8,366.8 156.8,366.1 155.8,365.3 154.8,364.3 153.8,363.2 152.8,362.4 151.8,361.4 150.8,360.2 149.8,359.2 148.8,359.1 147.8,358.8 146.8,357.5 145.8,355.7 144.8,355 143.8,355.3 142.8,356.2 141.8,357.2 140.8,357.7 139.8,357.7 138.8,357.4 137.8,357 136.8,357 135.8,357.5 134.8,357.8 133.8,357.6" fill="#0000ff" fill-opacity="0.2" stroke="none"/>
<polygon points="133.8,324 134.8,326 135.8,328.2 136.8,330.5 137.8,332.9 138.8,335.5 139.8,338 140.8,340 141.8,342.1 142.8,344.6 143.8,346.4 144.8,347.9 145.8,349.3 146.8,350.3 147.8,350.9 148.8,351.9 149.8,353.2 150.8,354.1 151.8,354.4 152.8,355.1 153.8,356.3 154.8,357.5 155.8,358.2 156.8,358.5 157.8,358.9 158.8,359.9 159.8,360.9 160.8,361.2 161.8,361.6 162.8,363 163.8,365 164.8,366.4 165.8,367.3 166.8,368 167.8,369 168.8,369.9 169.8,370.5 170.8,371 171.8,371.4 172.8,371.7 173.8,372.1 174.8,372.7 175.8,373.5 176.8,374.4 177.8,374.6 178.8,372.3 179.8,369.7 180.8,366.5 181.8,363.2 182.8,360.6 183.8,358.2 184.8,354.8 185.8,350.5 186.8,346 187.8,341.2 188.8,338.5 189.8,336.3 190.8,334.6 191.8,332.9 192.8,331.7 193.8,330.9 194.8,329.4 195.8,327.7 196.8,327.1 197.8,328.6 198.8,330.4 199.8,331.5 200.8,331.6 201.8,331.6 202.8,332.1 203.8,332.8 204.8,333.5 205.8,333.9 206.8,334 207.8,334.3 208.8,334.9 209.8,336.3 210.8,337.7 211.8,338.4 212.8,338.9 213.8,339.6 214.8,340.9 215.8,342.3 216.8,343.4 217.8,344.2 218.5,344.9 218.5,362.3 217.8,361.1 216.8,359.1 215.8,357.3 214.8,355.7 213.8,354.6 212.8,353.5 211.8,352.1 210.8,350.6 209.8,349.3 208.8,348.4 207.8,348.2 206.8,348.5 205.8,348.1 204.8,347 203.8,345.8 202.8,345.2 201.8,345 200.8,344.8 199.8,344.4 198.8,343.8 197.8,343.2 196.8,342.8 195.8,343.3 194.8,344.2 193.8,345.2 192.8,346 191.8,347 190.8,348.9 189.8,351 188.8,353.4 187.8,356 186.8,360.2 185.8,364.4 184.8,367.8 183.8,370 182.8,371.5 181.8,373.6 180.8,376.1 179.8,377.5 178.8,378.3 177.8,379.1 176.8,380 175.8,379.6 174.8,378.9 173.8,377.9 172.8,377.1 171.8,376.4 170.8,375.5 169.8,374.2 168.8,373.1 167.8,372.5 166.8,372.4 165.8,372.4 164.8,371.9 163.8,370.6 162.8,369.1 161.8,367.9 160.8,367.1 159.8,366.5 158.8,365.8 157.8,364.9 156.8,363.9 155.8,363.2 154.8,362.7 153.8,362.4 152.8,362 151.8,361.3 150.8,360.3 149.8,359.4 148.8,358.5 147.8,357.4 146.8,356.4 145.8,355.9 144.8,356.2 143.8,356.6 142.8,356.7 141.8,356.8 140.8,357.2 139.8,357.5 138.8,357.6 137.8,357.7 136.8,357.7 135.8,357.6 134.8,357.4 133.8,357.2" fill="#ff0000" fill-opacity="0.2" stroke="none"/>
<polygon points="233.6,332.2 234.6,333.5 235.6,334.4 236.6,335.5 237.6,337.3 238.6,339.6 239.6,341.3 240.6,342.2 241.6,342.2 242.6,342.6 243.6,343.3 244.6,344.1 245.6,345 246.6,345.7 247.6,346.2 248.6,347.1 249.6,348.2 250.6,349 251.6,349.7 252.6,350.5 253.6,351.2 254.6,352 255.6,352.9 256.6,353.7 257.6,354.3 258.6,355.2 259.6,357 260.6,359.1 261.6,360.7 262.6,361.6 263.6,362.1 264.6,362.5 265.6,363.2 266.6,363.9 267.6,364.6 268.6,365.6 269.6,366.7 270.6,367.8 271.6,368.8 272.6,369.6 273.6,370.6 274.6,371.3 275.6,371.7 276.6,371.4 277.6,370.1 278.6,368.7 279.6,367.5 280.6,366.5 281.6,365.8 282.6,364.8 283.6,362.8 284.6,360.6 285.6,358.8 286.6,357.4 287.6,355.9 288.6,354.3 289.6,352.9 290.6,351.5 291.6,350.5 292.6,349.6 293.6,349.1 294.6,348.2 295.6,347.1 296.6,346 297.6,345.5 298.6,345.4 299.6,345.1 300.6,344.7 301.6,344.5 302.6,344.6 303.6,344.9 304.6,345.6 305.6,345.8 306.6,345.6 307.6,345.6 308.6,346.5 309.6,347.7 310.6,349.1 311.6,350.3 312.6,351.3 313.6,352.1 314.6,353 315.6,354 316.6,354.9 317.6,356 318.6,357.4 318.7,358 318.7,372.2 318.6,372.2 317.6,371.2 316.6,369.9 315.6,368.6 314.6,367.5 313.6,366.5 312.6,365.5 311.6,364.4 310.6,363.4 309.6,362.3 308.6,361.3 307.6,360.5 306.6,359.8 305.6,359.3 304.6,359.1 303.6,358.6 302.6,358.6 301.6,358.5 300.6,358.5 299.6,358.7 298.6,359.1 297.6,359.4 296.6,359.9 295.6,360.5 294.6,361.1 293.6,362 292.6,362.9 291.6,363.8 290.6,364.4 289.6,365.9 288.6,367.5 287.6,369 286.6,370.5 285.6,372 284.6,373.8 283.6,376 282.6,378 281.6,378.3 280.6,378.2 279.6,378.5 278.6,379.4 277.6,380.6 276.6,381.5 275.6,381.4 274.6,380.9 273.6,380.5 272.6,379.7 271.6,378.6 270.6,376.7 269.6,375.1 268.6,374.6 267.6,374.7 266.6,374.9 265.6,374.6 264.6,373.4 263.6,371.5 262.6,369.9 261.6,368.7 260.6,367.9 259.6,367.5 258.6,367.4 257.6,367.1 256.6,366.3 255.6,365.2 254.6,364.4 253.6,364.1 252.6,364 251.6,363.7 250.6,363.1 249.6,362.1 248.6,361.2 247.6,360.6 246.6,359.8 245.6,358.8 244.6,358.1 243.6,357.4 242.6,356.5 241.6,355.7 240.6,355.6 239.6,356 238.6,356 237.6,355.9 236.6,355.9 235.6,356.2 234.6,356.4 233.6,356.4" fill="#0000ff" fill-opacity="0.2" stroke="none"/>
<polygon points="234.4,323.8 235.4,325.7 236.4,327.5 237.4,329.2 238.4,331.1 239.4,333.4 240.4,335.5 241.4,337.3 242.4,339.1 243.4,340.9 244.4,342.8 245.4,345.3 246.4,347.2 247.4,348.4 248.4,349.3 249.4,350 250.4,351 251.4,352.1 252.4,353 253.4,353.8 254.4,354.8 255.4,356.2 256.4,358 257.4,359.4 258.4,360.3 259.4,361.2 260.4,362.3 261.4,363.5 262.4,364.5 263.4,365.2 264.4,365.7 265.4,366.4 266.4,367.3 267.4,368.1 268.4,368.7 269.4,369 270.4,369.5 271.4,370.3 272.4,371.5 273.4,372.6 274.4,373.3 275.4,373.9 276.4,374.9 277.4,375.8 278.4,375.3 279.4,373.7 280.4,371.8 281.4,369.6 282.4,367.8 283.4,366.1 284.4,364.3 285.4,362 286.4,359.6 287.4,357.2 288.4,355.1 289.4,353.1 290.4,351.1 291.4,349 292.4,347.4 293.4,347.1 294.4,346.5 295.4,345.4 296.4,344.3 297.4,343.5 298.4,343 299.4,343.1 300.4,343.4 301.4,343.7 302.4,343.7 303.4,343.7 304.4,343.8 305.4,344.1 306.4,344.8 307.4,345.5 308.4,346.1 309.4,346.5 310.4,347.1 311.4,347.9 312.4,349.1 313.4,350.1 314.4,351 315.4,351.9 316.4,352.9 317.4,353.7 318.4,354.1 318.7,354 318.7,370.2 318.4,370 317.4,368.8 316.4,367.2 315.4,365.2 314.4,363.3 313.4,362.2 312.4,361.7 311.4,361 310.4,360.6 309.4,360.6 308.4,360.6 307.4,360.1 306.4,359.3 305.4,358.6 304.4,358.3 303.4,358.2 302.4,358.1 301.4,358 300.4,357.6 299.4,356.7 298.4,356.1 297.4,356.4 296.4,357 295.4,357.7 294.4,358.4 293.4,359.1 292.4,359.7 291.4,361.6 290.4,363.7 289.4,365.6 288.4,367.8 287.4,370 286.4,372 285.4,373.9 284.4,376.1 283.4,378 282.4,379.9 281.4,381.2 280.4,382.3 279.4,383.4 278.4,384.8 277.4,385.8 276.4,385.5 275.4,385 274.4,384.6 273.4,383.8 272.4,382.5 271.4,381 270.4,379.7 269.4,378.8 268.4,378.3 267.4,377.7 266.4,377.1 265.4,376.1 264.4,374.7 263.4,373.6 262.4,372.9 261.4,372.1 260.4,371.4 259.4,370.6 258.4,369.6 257.4,368.9 256.4,368 255.4,366.6 254.4,365.1 253.4,364.1 252.4,363.7 251.4,362.9 250.4,361.7 249.4,361.2 248.4,360.8 247.4,360.1 246.4,359.4 245.4,359.1 244.4,358 243.4,356.3 242.4,354.2 241.4,352.3 240.4,351.5 239.4,351.3 238.4,350.3 237.4,349.3 236.4,348.8 235.4,348.8 234.4,348.7" fill="#ff0000" fill-opacity="0.2" stroke="none"/>
<line x1="324.4" y1="306.2" x2="324.4" y2="341.8" stroke="#ff0000" stroke-width="0.9"/>
<polyline points="320.1,313.9 324.4,306.2 328.7,313.9" fill="none" stroke="#ff0000" stroke-width="0.9" stroke-linejoin="round" stroke-linecap="butt"/>
<line x1="324.4" y1="355.4" x2="324.4" y2="391.1" stroke="#0000ff" stroke-width="0.9"/>
<polyline points="320.1,383.4 324.4,391.1 328.7,383.4" fill="none" stroke="#0000ff" stroke-width="0.9" stroke-linejoin="round" stroke-linecap="butt"/>
<text x="324.5" y="300.8" font-size="12.5" text-anchor="middle" fill="#ff0000">top</text>
<text x="324.2" y="405.3" font-size="12.5" text-anchor="middle" fill="#0000ff">bottom</text>
<text x="393.7" y="49.6" font-size="19.3" text-anchor="start" fill="#000" font-weight="bold">b</text>
<line x1="388.4" y1="42.4" x2="388.4" y2="168.9" stroke="#444444" stroke-width="1.1"/>
<line x1="384.8" y1="59.6" x2="388.4" y2="59.6" stroke="#444444" stroke-width="1.1"/>
<text x="382.8" y="63.2" font-size="10.3" text-anchor="end" fill="#606060">2</text>
<line x1="384.8" y1="99.1" x2="388.4" y2="99.1" stroke="#444444" stroke-width="1.1"/>
<text x="382.8" y="102.7" font-size="10.3" text-anchor="end" fill="#606060">1</text>
<line x1="384.8" y1="138.6" x2="388.4" y2="138.6" stroke="#444444" stroke-width="1.1"/>
<text x="382.8" y="142.2" font-size="10.3" text-anchor="end" fill="#606060">0</text>
<line x1="388.4" y1="168.4" x2="685" y2="168.4" stroke="#444444" stroke-width="1.1"/>
<line x1="455.4" y1="168.4" x2="455.4" y2="171.4" stroke="#444444" stroke-width="1.1"/>
<text x="455.4" y="181.6" font-size="10.3" text-anchor="middle" fill="#606060">0</text>
<line x1="541.8" y1="168.4" x2="541.8" y2="171.4" stroke="#444444" stroke-width="1.1"/>
<text x="541.8" y="181.6" font-size="10.3" text-anchor="middle" fill="#606060">400</text>
<line x1="628.2" y1="168.4" x2="628.2" y2="171.4" stroke="#444444" stroke-width="1.1"/>
<text x="628.2" y="181.6" font-size="10.3" text-anchor="middle" fill="#606060">800</text>
<text x="537.2" y="195.5" font-size="12.75" text-anchor="middle" fill="#000">Time relative to cue onset (ms)</text>
<text transform="translate(371.3,105.4) rotate(-90)" font-size="12.7" text-anchor="middle" fill="#000">Towardness (pixels)</text>
<line x1="455.4" y1="43" x2="455.4" y2="168.4" stroke="#bdbdbd" stroke-width="0.8" stroke-dasharray="2.6,2.4"/>
<line x1="388.4" y1="138.6" x2="685" y2="138.6" stroke="#262626" stroke-width="1.6" stroke-dasharray="7.3,7.3"/>
<polyline points="402,130.1 403,131.4 404,132.7 405,134 406,134.8 407,135.5 408,136.2 409,136.8 410,137 411,137.1 412,137.3 413,137.3 414,137.4 415,137.7 416,138.1 417,138.4 418,138.8 419,139.1 420,138.8 421,138.6 422,138.4 423,138.3 424,138.1 425,137.9 426,138 427,138.1 428,138.1 429,138.1 430,137.9 431,137.9 432,137.8 433,137.7 434,137.5 435,137.4 436,137.5 437,137.5 438,137.7 439,137.8 440,137.9 441,137.9 442,138 443,138.1 444,138.4 445,138.5 446,138.4 447,138.3 448,138.3 449,138.6 450,139 451,139.2 452,139.2 453,139 454,138.9 455,138.9 456,139 457,139.1 458,139.1 459,139.1 460,139 461,138.8 462,138.6 463,138.2 464,138.4 465,138.7 466,139.3 467,139.8 468,139.6 469,139.3 470,139.1 471,138.9 472,138.9 473,138.8 474,138.6 475,138.4 476,138.3 477,138.1 478,137.8 479,137.7 480,137.7 481,137.6 482,137.4 483,137.3 484,137.4 485,137.5 486,137.5 487,137.4 488,137.3 489,137.4 490,137.7 491,138 492,138.3 493,138.6 494,138.7 495,138.5 496,138.1 497,137.7 498,137.3 499,137.2 500,137.1 501,137.1 502,137.7 503,138.2 504,138.7 505,139.3 506,140 507,140.9 508,141.4 509,141.8 510,142.1 511,142.2 512,142.4 513,142.7 514,143.1 515,143.3 516,143.3 517,143.3 518,143.4 519,143.6 520,143.2 521,142.9 522,142.5 523,142 524,141.5 525,140.9 526,140.8 527,140.7 528,140.6 529,140.7 530,140.8 531,140.8 532,140.7 533,140.5 534,140.1 535,139.7 536,139.4 537,139 538,137.8 539,136.5 540,135.2 541,133.1 542,130.8 543,128.5 544,126.4 545,124.7 546,122.9 547,121.2 548,119.4 549,117.2 550,114.9 551,112.8 552,110.9 553,109 554,107.1 555,105.2 556,103.4 557,101.6 558,99.6 559,97.6 560,95.7 561,93.6 562,91.4 563,89.4 564,87.4 565,85.7 566,84.1 567,82.6 568,81 569,79.3 570,77.5 571,75.7 572,74.3 573,73 574,71.9 575,70.9 576,70.5 577,70.2 578,69.9 579,69.7 580,69.4 581,68.8 582,68 583,67.3 584,66.3 585,65.3 586,64.5 587,64.4 588,65.1 589,65.9 590,66.6 591,67.6 592,68.5 593,69.4 594,70.3 595,71.2 596,72 597,72.7 598,73.4 599,74.1 600,74.7 601,75.2 602,75.9 603,76.8 604,77.8 605,78.7 606,79.5 607,80.4 608,81.3 609,82 610,82.4 611,82.6 612,83 613,83.4 614,84 615,84.7 616,85.3 617,86.2 618,87.2 619,88.1 620,88.9 621,89.6 622,90.3 623,91 624,91.5 625,92.1 626,92.6 627,93 628,93 629,93.1 630,93.4 631,94 632,94.7 633,95.3 634,94.8 635,94.2 636,93.6 637,93.1 638,92.8 639,93 640,94 641,94.7 642,95.1 643,95.6 644,96 645,96.5 646,97.1 647,97.7 648,98.3 649,98.5 650,98.6 651,98.8 652,99.2 653,99.7 654,99.8 655,99.8 656,99.6 657,99.6 658,99.8 659,99.9 660,100.2 661,100.7 662,101.1 663,101.2 664,101.1 665,100.9 666,100.6 667,100.7 668,101 669,101.2 670,101.4 671,101.5 671.4,101.6" fill="none" stroke="#35895f" stroke-width="1.4" stroke-linejoin="round" stroke-linecap="butt"/>
<polyline points="402,133.1 403,134.5 404,135.9 405,137.3 406,137.2 407,137.1 408,137 409,136.7 410,136.4 411,135.9 412,135.8 413,135.8 414,136 415,136.2 416,136.5 417,136.7 418,136.4 419,136.2 420,136.1 421,136.2 422,136.2 423,136 424,135.7 425,135.3 426,135 427,134.7 428,134.4 429,135.6 430,136.8 431,138 432,138.8 433,139.5 434,140.1 435,140.8 436,140.6 437,140.4 438,140.2 439,140 440,139.7 441,139.6 442,139.9 443,140.3 444,140.5 445,140.8 446,141.2 447,141.5 448,141.7 449,141.9 450,142 451,142.2 452,142.5 453,142.8 454,143.2 455,143.5 456,143.6 457,143.7 458,143.9 459,144.2 460,144.4 461,144.5 462,144.6 463,144.7 464,145 465,145.4 466,145.8 467,146.3 468,146.7 469,147.1 470,147.3 471,147.5 472,147.6 473,147.6 474,147.6 475,147.9 476,148.1 477,148.4 478,148.4 479,148.2 480,147.9 481,147.6 482,147.9 483,148.2 484,148.6 485,148.7 486,148.8 487,149.1 488,148.8 489,148.6 490,148.2 491,147.8 492,147.3 493,146.8 494,146.8 495,146.9 496,147 497,147.2 498,146.7 499,146.3 500,145.9 501,145.4 502,144.7 503,144 504,144.3 505,144.7 506,145.2 507,145.8 508,145.9 509,146 510,145.9 511,145.7 512,145.5 513,145.4 514,145.3 515,145.2 516,145.5 517,145.9 518,146.3 519,146.6 520,146.7 521,146.8 522,147.2 523,147.6 524,147.6 525,147.4 526,147.2 527,147 528,146.7 529,146.6 530,146.8 531,147.2 532,147.7 533,147.9 534,148.1 535,148.1 536,148.1 537,148.1 538,148.4 539,148.7 540,149 541,149.4 542,148.6 543,147.5 544,146.5 545,145.4 546,144.2 547,143.6 548,143.1 549,142.6 550,142.1 551,141.5 552,140.9 553,140.3 554,139.7 555,139.4 556,139.8 557,140.3 558,140.6 559,140.9 560,140.7 561,140 562,139.3 563,138.6 564,137.9 565,137.5 566,137.6 567,137.8 568,137.9 569,138.1 570,138.5 571,139.1 572,139.8 573,140.7 574,141.4 575,142.1 576,142.5 577,142.9 578,143.2 579,143.4 580,143.7 581,144.2 582,144.3 583,144.4 584,144.4 585,144.4 586,144.3 587,144.2 588,144.1 589,144.1 590,144.1 591,144.2 592,144.2 593,144.1 594,143.9 595,143.8 596,143.7 597,143.6 598,143.4 599,143.3 600,143.1 601,142.9 602,142.8 603,142.5 604,142.2 605,141.9 606,141.7 607,141.5 608,141.2 609,141 610,140.7 611,140.3 612,139.7 613,139.1 614,138.6 615,138.2 616,137.7 617,137.1 618,136.6 619,136.1 620,135.6 621,135 622,134.5 623,134 624,133.6 625,133.3 626,132.9 627,132.6 628,132.5 629,132.4 630,132.3 631,132.1 632,131.9 633,131.7 634,131.4 635,131.4 636,131.2 637,130.9 638,131 639,131.2 640,131.4 641,131.4 642,131.3 643,131.1 644,130.8 645,130.4 646,130.3 647,130.5 648,130.8 649,131.1 650,131.3 651,131.5 652,131.8 653,131.9 654,131.9 655,131.8 656,131.5 657,131.2 658,130.9 659,130.8 660,131.1 661,131.2 662,131.2 663,131.1 664,131.1 665,131.1 666,131.2 667,131.3 668,131.3 669,131.2 670,130.9 671,130.7 671.4,130.7" fill="none" stroke="#8468c8" stroke-width="1.4" stroke-linejoin="round" stroke-linecap="butt"/>
<polygon points="402,125.5 403,126.2 404,126.6 405,126.9 406,127.4 407,128.4 408,129.7 409,131 410,131.7 411,131.8 412,132.1 413,132.7 414,132.9 415,133.1 416,133.2 417,133.7 418,134.2 419,134.5 420,134.8 421,134.9 422,134.6 423,134.2 424,134.2 425,134.5 426,134.6 427,134.5 428,134.1 429,133.5 430,133.1 431,133.4 432,134.2 433,134.8 434,135.1 435,135 436,135.1 437,135.1 438,134.8 439,134.1 440,133.8 441,133.7 442,133.8 443,134.2 444,134.6 445,134.7 446,134.7 447,134.4 448,133.9 449,133.7 450,133.8 451,134.1 452,134.7 453,135 454,134.9 455,134.4 456,133.6 457,133.1 458,133 459,133.4 460,133.8 461,134.2 462,134.5 463,134.4 464,134 465,133.6 466,133.5 467,133.4 468,133.2 469,133.1 470,133.4 471,133.6 472,132.9 473,132 474,131.4 475,131.5 476,132.1 477,132.6 478,133.2 479,133.8 480,133.8 481,133.2 482,133 483,133 484,133 485,132.9 486,133.2 487,133.4 488,133.5 489,133.5 490,133.6 491,133.6 492,133.5 493,133.6 494,133.7 495,133.4 496,132.7 497,132.2 498,132 499,132.1 500,132.4 501,132.3 502,132.1 503,132.5 504,133 505,133.1 506,133.1 507,133.2 508,132.9 509,132.6 510,132.9 511,133.8 512,134.7 513,134.9 514,134.4 515,133.8 516,133.6 517,133.7 518,133.9 519,134.1 520,134.4 521,134.7 522,134.5 523,134 524,133.2 525,132.8 526,133.2 527,133.8 528,133.9 529,133.6 530,133.4 531,133.2 532,132.9 533,132.4 534,131.7 535,131 536,130.2 537,129 538,126.8 539,124.9 540,122.9 541,120.7 542,118.6 543,116.4 544,114 545,111.8 546,110 547,107.8 548,104.8 549,101.9 550,99.7 551,98 552,96.1 553,93.9 554,91.6 555,89.5 556,87.8 557,86.1 558,84.1 559,81.8 560,79 561,76.4 562,74.4 563,73 564,71.9 565,71 566,69.5 567,67.2 568,64.8 569,63 570,61.7 571,60.7 572,59.8 573,58.5 574,56.8 575,55.3 576,54.4 577,54 578,53.6 579,52.9 580,52 581,51.7 582,51.3 583,50.3 584,49.3 585,48.8 586,48.4 587,48.8 588,50 589,50.7 590,50.9 591,51.5 592,52.4 593,53.2 594,54 595,55 596,56 597,56.8 598,57.5 599,58.5 600,59.5 601,60.5 602,61.6 603,62.3 604,62.7 605,63.1 606,63.4 607,63.9 608,64.8 609,65.7 610,66.5 611,67.3 612,68.4 613,69.2 614,70.1 615,71.2 616,72.2 617,72.9 618,73.7 619,74.4 620,75.2 621,76 622,76.4 623,77 624,77.6 625,78.3 626,79.3 627,80.7 628,81.6 629,81.9 630,82.1 631,82 632,81.8 633,81.6 634,81.8 635,82.2 636,82.6 637,82.9 638,82.9 639,82.8 640,82.8 641,83 642,83.7 643,84.4 644,85 645,85.7 646,86.8 647,88.1 648,88.8 649,88.5 650,88.2 651,88.4 652,88.7 653,88.8 654,88.6 655,88.4 656,88.4 657,88.5 658,88.9 659,89.4 660,90 661,90.6 662,91.1 663,91.3 664,91.4 665,91.4 666,91.7 667,91.7 668,91.8 669,91.8 670,91.5 671,91.1 671.4,91.2 671.4,112 671,111.9 670,111.6 669,111.3 668,111.3 667,111.1 666,110.6 665,110.6 664,110.7 663,110.4 662,110 661,109.5 660,109.5 659,109.8 658,109.5 657,108.7 656,108.1 655,108.2 654,108.4 653,108.4 652,107.9 651,107.6 650,108 649,108.6 648,109 647,108.7 646,107.8 645,106.8 644,106.1 643,105.5 642,105.2 641,104.8 640,104.1 639,103.4 638,103.2 637,103.5 636,103.8 635,103.8 634,103.5 633,103.7 632,104.7 631,105.5 630,105.5 629,104.6 628,103.6 627,103.1 626,102.6 625,101.6 624,100.5 623,99.8 622,99.5 621,99.4 620,99 619,98.4 618,97.9 617,97.7 616,97.1 615,96.4 614,95.9 613,95.3 612,94.6 611,94.1 610,93.9 609,93.8 608,93.3 607,92.8 606,92.6 605,92.6 604,92.2 603,91.4 602,90.5 601,90.1 600,90.2 599,90.1 598,89.1 597,88 596,87.3 595,86.8 594,86.1 593,85.1 592,84.4 591,84.3 590,84.2 589,83.1 588,82 587,81.6 586,81.7 585,82.1 584,82.7 583,83.6 582,84.5 581,84.9 580,85 579,84.9 578,84.9 577,85.3 576,85.8 575,86.5 574,87.7 573,88.6 572,89.1 571,89.8 570,91.7 569,94.3 568,96.7 567,98.7 566,100.3 565,101.4 564,102.7 563,104.5 562,106.6 561,108.5 560,110.5 559,112.7 558,114.8 557,116.7 556,118.3 555,120 554,121.9 553,123.7 552,124.8 551,125.8 550,127.4 549,129.6 548,131.4 547,132.6 546,133.7 545,135 544,136.3 543,137.3 542,138.8 541,140.6 540,142.2 539,142.9 538,143.3 537,144.1 536,144.9 535,146 534,146.6 533,146.4 532,146 531,146 530,146 529,146.4 528,147.2 527,148.2 526,149.1 525,149.6 524,149.5 523,149.5 522,150 521,150.4 520,150.9 519,151.6 518,151.5 517,150.9 516,150.1 515,149.7 514,149.4 513,149 512,149.2 511,149.8 510,150.3 509,150 508,149.2 507,148.5 506,148 505,147.7 504,147.8 503,147.8 502,147.5 501,147.2 500,147 499,147.1 498,147.1 497,146.7 496,145.8 495,144.8 494,144.1 493,143.9 492,144.1 491,144.6 490,144.9 489,144.9 488,144.7 487,144.4 486,144.2 485,144.3 484,144.2 483,143.3 482,142.3 481,142 480,142.5 479,143 478,143 477,142.7 476,142.8 475,143.2 474,143.6 473,143.5 472,143.2 471,143 470,142.8 469,142.8 468,143 467,143 466,142.7 465,142.2 464,142.1 463,142.3 462,142.3 461,142.3 460,142.3 459,142.5 458,142.5 457,142.4 456,142.4 455,142.8 454,143 453,142.6 452,142.5 451,143.3 450,143.7 449,143.3 448,143 447,143.2 446,143.5 445,143.5 444,143 443,142.5 442,142.9 441,143.5 440,143.3 439,142.7 438,142.8 437,143.3 436,143.3 435,142.7 434,142.6 433,142.8 432,142.7 431,142.7 430,143 429,143 428,142.6 427,142.3 426,142.6 425,142.9 424,142.8 423,142.8 422,143.2 421,143.8 420,144.1 419,143.7 418,143.1 417,142.9 416,143.1 415,143.3 414,143.2 413,142.7 412,142 411,141.3 410,141.3 409,141.5 408,141.6 407,141.4 406,140.7 405,140.1 404,140.1 403,140.4 402,140.5" fill="#35895f" fill-opacity="0.2" stroke="none"/>
<polygon points="402,125.5 403,125.8 404,126.8 405,128.1 406,128.9 407,129.1 408,128.7 409,128.3 410,128.1 411,128.2 412,128.3 413,128.3 414,128.6 415,129.6 416,130.6 417,131.2 418,130.9 419,130.3 420,129.8 421,129.3 422,129.1 423,129.4 424,130 425,130.1 426,130.5 427,131.2 428,132.2 429,132.9 430,133.1 431,133.3 432,133.8 433,134.7 434,135.4 435,135.7 436,135.8 437,136.2 438,136.6 439,137.1 440,137.5 441,138 442,138.3 443,138.2 444,137.7 445,137.3 446,137.6 447,138.4 448,139.3 449,139.9 450,139.9 451,139.5 452,139.3 453,139.2 454,139.1 455,138.9 456,139 457,139.2 458,139.4 459,139.5 460,139.7 461,140 462,140.2 463,140.3 464,140.3 465,140.7 466,141.2 467,141.3 468,141.1 469,140.9 470,141 471,141.6 472,142.1 473,142.3 474,142.4 475,142.4 476,142.3 477,142.6 478,143 479,143.2 480,143 481,142.9 482,142.5 483,141.8 484,141.6 485,142.1 486,142.5 487,142.8 488,142.7 489,142.1 490,141.2 491,140.9 492,141.3 493,141.8 494,142 495,142.1 496,142.3 497,142.8 498,143 499,142.5 500,141.7 501,141.2 502,141.1 503,140.9 504,141 505,141.2 506,141.4 507,141.3 508,141.2 509,141 510,140.2 511,139.4 512,139.5 513,140 514,140.3 515,140 516,140 517,140.2 518,140.4 519,140.5 520,140.5 521,140.8 522,141 523,141 524,141.1 525,141.6 526,142.1 527,142.6 528,143.2 529,143.7 530,143.6 531,142.6 532,141.9 533,141.7 534,141.9 535,141.8 536,141.1 537,140 538,139.3 539,139.3 540,139.1 541,138.7 542,138.3 543,137.9 544,137.2 545,136.6 546,136.3 547,136 548,136 549,136 550,135.4 551,134.3 552,133.5 553,133.5 554,133.6 555,133.1 556,132.5 557,132.2 558,132.3 559,132.8 560,133.1 561,133 562,132.5 563,132.3 564,132.1 565,131.9 566,132.1 567,132.7 568,132.9 569,132.8 570,132.5 571,132.3 572,132.5 573,133.4 574,134.6 575,135.4 576,135.5 577,135.2 578,134.9 579,134.9 580,135.2 581,135.6 582,135.9 583,135.9 584,135.7 585,135.4 586,135.5 587,135.8 588,136.3 589,137 590,137.3 591,137.6 592,137.8 593,137.7 594,137.5 595,137.4 596,137.2 597,136.8 598,136.3 599,135.8 600,135.7 601,136 602,136.2 603,136 604,135.9 605,136 606,135.9 607,135.4 608,134.6 609,133.7 610,133 611,132.5 612,132.1 613,131.9 614,131.7 615,131.1 616,130.5 617,130.6 618,130.6 619,130.2 620,129.4 621,128.5 622,127.7 623,127.4 624,127.4 625,127.4 626,126.9 627,126.3 628,125.9 629,125.8 630,126 631,125.8 632,125.2 633,124.6 634,124.6 635,125 636,125.3 637,124.9 638,124.2 639,123.6 640,123.5 641,123.8 642,124.3 643,124.5 644,124.5 645,124.4 646,124.5 647,124.5 648,124.1 649,123.8 650,124 651,124.2 652,124.6 653,124.8 654,124.9 655,124.9 656,125.1 657,125.4 658,125.3 659,124.7 660,124.1 661,124.1 662,124.3 663,124.3 664,124 665,123.7 666,123.2 667,123 668,123.4 669,124.1 670,124.2 671,123.8 671.4,123.5 671.4,136.1 671,135.8 670,136 669,136.5 668,136.8 667,136.9 666,136.8 665,136.4 664,136.2 663,136.4 662,136.5 661,136.3 660,136 659,136.1 658,136.7 657,137.3 656,137.4 655,137.2 654,137.2 653,137.4 652,137.9 651,138.3 650,138.5 649,138.5 648,138.3 647,137.7 646,137.1 645,137.3 644,138 643,138.3 642,138.1 641,137.7 640,137.7 639,137.9 638,137.9 637,137.5 636,137.4 635,137.7 634,137.8 633,137.6 632,137.6 631,138 630,138.1 629,138.2 628,138.8 627,139.6 626,140.1 625,140.2 624,140.3 623,140.1 622,139.7 621,139.8 620,140.7 619,142.1 618,143.2 617,143.8 616,144 615,144.2 614,144.7 613,145.7 612,146.6 611,147.1 610,147.2 609,147.4 608,147.8 607,148.1 606,148.1 605,148.1 604,148.6 603,149.5 602,150 601,150.1 600,150.2 599,150.5 598,150.9 597,151.1 596,151.8 595,152.5 594,152.9 593,152.9 592,152.9 591,153 590,153 589,152.8 588,152.5 587,152.7 586,153.3 585,153.6 584,153.4 583,152.7 582,152.1 581,151.6 580,151.3 579,151.3 578,151.6 577,151.6 576,151 575,150.3 574,149.5 573,149 572,148.8 571,148.6 570,148.4 569,148.4 568,148.5 567,148 566,147.2 565,146.8 564,146.4 563,146.1 562,146.2 561,146.8 560,147.8 559,148.6 558,149.2 557,149.6 556,149.4 555,148.9 554,148.5 553,148.3 552,148.9 551,150 550,151 549,151.7 548,151.7 547,151.6 546,151.9 545,152.2 544,152.2 543,152.4 542,153 541,153.5 540,153.8 539,154.3 538,154.5 537,154.1 536,153.7 535,153.4 534,153.1 533,153.1 532,153.6 531,154.4 530,154.7 529,153.8 528,152.8 527,152.7 526,153 525,152.9 524,152.5 523,152.1 522,152.1 521,152.3 520,152.3 519,152.3 518,152.4 517,152.5 516,152.2 515,151.4 514,150.9 513,150.9 512,151.2 511,151.8 510,152.2 509,152.2 508,152 507,152.1 506,152.1 505,151.9 504,152 503,152.5 502,152.9 501,153.1 500,153.2 499,153.2 498,153.2 497,153.4 496,153.3 495,153 494,152.8 493,153 492,153.7 491,154.6 490,155 489,154.9 488,154.5 487,153.9 486,153.1 485,152.4 484,152.4 483,152.8 482,153 481,152.8 480,152.6 479,152.5 478,152.4 477,152.6 476,152.9 475,153.1 474,152.9 473,152.5 472,151.8 471,151.2 470,150.9 469,150.8 468,151 467,151.1 466,151.1 465,151 464,150.8 463,150.2 462,149.6 461,149.2 460,149.1 459,149.3 458,149.5 457,149.6 456,149.2 455,148.2 454,147.3 453,147.1 452,147.4 451,147.5 450,147.2 449,147.2 448,147.4 447,147 446,146.6 445,146.7 444,146.8 443,146.8 442,146.6 441,146.3 440,145.8 439,145.3 438,144.8 437,144.6 436,145.1 435,145.7 434,145.7 433,145.1 432,144.7 431,144.7 430,144.8 429,144.3 428,143.7 427,143.4 426,143.1 425,142.4 424,142 423,142.3 422,142.8 421,142.5 420,142 419,142.2 418,142.9 417,143.1 416,142.8 415,142.3 414,142 413,142 412,142 411,141.8 410,141.4 409,141 408,141 407,141 406,141.2 405,141.1 404,140.4 403,139.8 402,139.9" fill="#8468c8" fill-opacity="0.2" stroke="none"/>
<line x1="562.8" y1="158.5" x2="620.7" y2="158.5" stroke="#3a8c66" stroke-width="2.2" stroke-linecap="round"/>
<line x1="623.7" y1="158.5" x2="623.8" y2="158.5" stroke="#3a8c66" stroke-width="2.2" stroke-linecap="round"/>
<line x1="626.8" y1="158.5" x2="632" y2="158.5" stroke="#3a8c66" stroke-width="2.2" stroke-linecap="round"/>
<line x1="638" y1="158.5" x2="647.3" y2="158.5" stroke="#3a8c66" stroke-width="2.2" stroke-linecap="round"/>
<line x1="655.4" y1="158.5" x2="659.1" y2="158.5" stroke="#3a8c66" stroke-width="2.2" stroke-linecap="round"/>
<line x1="552.8" y1="162.4" x2="671.5" y2="162.4" stroke="#000" stroke-width="2.7" stroke-linecap="round"/>
<text x="393.7" y="291" font-size="19.3" text-anchor="start" fill="#000" font-weight="bold">d</text>
<line x1="388.4" y1="284" x2="388.4" y2="410.7" stroke="#444444" stroke-width="1.1"/>
<line x1="384.8" y1="289" x2="388.4" y2="289" stroke="#444444" stroke-width="1.1"/>
<text x="382.8" y="292.6" font-size="10.3" text-anchor="end" fill="#606060">2</text>
<line x1="384.8" y1="327.4" x2="388.4" y2="327.4" stroke="#444444" stroke-width="1.1"/>
<text x="382.8" y="331" font-size="10.3" text-anchor="end" fill="#606060">1</text>
<line x1="384.8" y1="365.6" x2="388.4" y2="365.6" stroke="#444444" stroke-width="1.1"/>
<text x="382.8" y="369.2" font-size="10.3" text-anchor="end" fill="#606060">0</text>
<line x1="388.4" y1="410.2" x2="685" y2="410.2" stroke="#444444" stroke-width="1.1"/>
<line x1="455.4" y1="410.2" x2="455.4" y2="413.2" stroke="#444444" stroke-width="1.1"/>
<text x="455.4" y="423.4" font-size="10.3" text-anchor="middle" fill="#606060">0</text>
<line x1="541.8" y1="410.2" x2="541.8" y2="413.2" stroke="#444444" stroke-width="1.1"/>
<text x="541.8" y="423.4" font-size="10.3" text-anchor="middle" fill="#606060">400</text>
<line x1="628.2" y1="410.2" x2="628.2" y2="413.2" stroke="#444444" stroke-width="1.1"/>
<text x="628.2" y="423.4" font-size="10.3" text-anchor="middle" fill="#606060">800</text>
<text x="537.2" y="438" font-size="12.75" text-anchor="middle" fill="#000">Time relative to cue onset (ms)</text>
<text transform="translate(371.3,347) rotate(-90)" font-size="12.7" text-anchor="middle" fill="#000">Towardness (pixels)</text>
<line x1="455.4" y1="284.6" x2="455.4" y2="410.2" stroke="#bdbdbd" stroke-width="0.8" stroke-dasharray="2.6,2.4"/>
<line x1="388.4" y1="365.6" x2="685" y2="365.6" stroke="#262626" stroke-width="1.6" stroke-dasharray="7.3,7.3"/>
<polyline points="402,364 403,363.6 404,363.2 405,362.9 406,362.8 407,362.8 408,362.7 409,362.5 410,363.2 411,363.9 412,364.5 413,365.1 414,364.9 415,364.8 416,364.7 417,364.8 418,364.9 419,365 420,364.9 421,364.9 422,364.9 423,364.9 424,364.7 425,364.3 426,364.1 427,364.2 428,364.4 429,364.8 430,365.2 431,365.5 432,365.7 433,366 434,366.3 435,366.4 436,366.5 437,366.5 438,366.8 439,367.2 440,367.8 441,368.3 442,368.7 443,369.1 444,369.3 445,369.5 446,369.7 447,369.8 448,369.7 449,368 450,366.3 451,364.8 452,364.9 453,365.1 454,365.2 455,365.2 456,365.2 457,365.1 458,364.9 459,364.7 460,364.1 461,363.6 462,363.1 463,362.5 464,362.7 465,362.8 466,362.8 467,362.8 468,362.8 469,363 470,363.2 471,363.2 472,363.2 473,363.2 474,363.3 475,363.6 476,363.7 477,363.7 478,363.7 479,363.6 480,363.6 481,363.7 482,363.8 483,363.9 484,363.9 485,363.9 486,364 487,364 488,364.2 489,364.5 490,364.8 491,365.1 492,365.3 493,365.5 494,365.7 495,365.9 496,366 497,366.1 498,366.3 499,366.7 500,367.1 501,367.5 502,367.9 503,368.1 504,368.1 505,368.1 506,368.3 507,368.6 508,368.9 509,369.1 510,368.7 511,368.4 512,368.1 513,368 514,367.8 515,367.5 516,367.3 517,367.1 518,366.9 519,366.8 520,366.7 521,366.7 522,366.6 523,366.5 524,366.5 525,366.5 526,366.4 527,366 528,365.6 529,365.3 530,365.2 531,365.4 532,365.6 533,365.7 534,365.7 535,365.5 536,364.7 537,362.5 538,360.5 539,358.6 540,357.9 541,357.1 542,356.3 543,355.4 544,354.2 545,353.1 546,352 547,351.1 548,350.2 549,349.4 550,348.4 551,347.4 552,346.3 553,345.2 554,344.1 555,343 556,342 557,341 558,339.7 559,338.2 560,336.7 561,335 562,333.3 563,331.6 564,329.9 565,328.3 566,327.8 567,327.5 568,327.3 569,327.2 570,326.9 571,326.4 572,325.4 573,324.3 574,323.2 575,322.1 576,321.1 577,320.1 578,319.3 579,318.4 580,317.6 581,317.7 582,317.8 583,317.8 584,317.9 585,317.7 586,317.5 587,317.3 588,317.1 589,316.7 590,316.1 591,315.6 592,315.2 593,314.9 594,314.6 595,314.3 596,314 597,313.8 598,313.8 599,314.7 600,315.5 601,316.1 602,316.8 603,317.4 604,318 605,318.5 606,319 607,319.4 608,320.5 609,321.6 610,322.8 611,324.1 612,325.3 613,326.6 614,327.9 615,329.5 616,331 617,331.6 618,332 619,332.4 620,333 621,333.4 622,333.5 623,333.6 624,333.8 625,333.9 626,333.8 627,333.7 628,333.7 629,333.8 630,334.1 631,334.2 632,334.2 633,334.2 634,334.1 635,334.5 636,335.1 637,335.7 638,336.2 639,336.5 640,336.9 641,337.8 642,338.8 643,339.8 644,340.8 645,340.7 646,340.3 647,339.9 648,339.5 649,339.3 650,339.3 651,339.3 652,339.2 653,339.1 654,339.1 655,339.2 656,339.5 657,339.7 658,339.8 659,339.6 660,339.4 661,339.3 662,339.4 663,339.6 664,339.4 665,338.8 666,338.1 667,337.4 668,336.8 669,336.2 670,335.6 671,335.1 671.4,335" fill="none" stroke="#35895f" stroke-width="1.4" stroke-linejoin="round" stroke-linecap="butt"/>
<polyline points="402,364 403,363.3 404,362.6 405,361.8 406,360.9 407,360 408,359.5 409,359 410,358.6 411,358.2 412,357.9 413,357.7 414,358.4 415,359 416,359.4 417,359.9 418,360.6 419,361.4 420,362 421,362.4 422,362.5 423,362.8 424,363.1 425,363.6 426,364 427,364.3 428,364.5 429,364.7 430,365.3 431,366.1 432,366.9 433,367.6 434,368.1 435,368.3 436,368.2 437,368.2 438,368.4 439,368.9 440,369.5 441,370 442,370.1 443,370.1 444,370.2 445,370.4 446,370.6 447,370.7 448,370.8 449,371.1 450,371.4 451,371.6 452,371.7 453,371.7 454,371.7 455,371.6 456,371.4 457,371 458,370.5 459,370.1 460,369.8 461,369.9 462,370 463,369.9 464,369.5 465,369 466,368.6 467,368.4 468,368.3 469,368.1 470,367.9 471,367.7 472,367.3 473,366.8 474,366.2 475,365.6 476,365.7 477,365.9 478,366.2 479,366.4 480,366.6 481,366.8 482,367.1 483,367.2 484,366.9 485,366.7 486,366.6 487,366.6 488,366.6 489,366.5 490,366.3 491,365.9 492,365.8 493,365.7 494,365.8 495,366.2 496,366.6 497,366.9 498,367.5 499,368 500,368.4 501,368.8 502,369.3 503,369.9 504,370.3 505,370.8 506,371.3 507,371.7 508,371.8 509,371.9 510,371.7 511,371.8 512,372 513,372.3 514,372.5 515,372.5 516,372.1 517,371.8 518,371.7 519,371.7 520,371.6 521,371.3 522,371.3 523,371.2 524,371.1 525,371 526,370.9 527,371 528,371 529,370.9 530,370.6 531,370.6 532,370.6 533,370.7 534,370.7 535,370.7 536,370.8 537,370.9 538,371.1 539,371.3 540,371.4 541,371.5 542,371.5 543,371.6 544,371.7 545,371.8 546,371.9 547,372.1 548,372.4 549,372.5 550,372.5 551,372.6 552,372.7 553,372.8 554,372.7 555,372.6 556,372.5 557,372.5 558,372.6 559,372.6 560,372.3 561,371.9 562,371.5 563,371.4 564,371.4 565,371.5 566,371.3 567,370.9 568,370.5 569,370.1 570,369.8 571,369.6 572,369.3 573,368.9 574,368.7 575,368.5 576,368.4 577,368.6 578,368.9 579,368.9 580,368 581,367 582,366.1 583,365.2 584,364.5 585,363.9 586,363.5 587,363.1 588,362.7 589,362 590,361.2 591,361.1 592,361.2 593,361.5 594,361.9 595,362.3 596,362.6 597,362.7 598,362.7 599,362.8 600,363 601,363.3 602,363.7 603,363.8 604,363.6 605,363.5 606,363.5 607,363.3 608,363 609,362.9 610,363 611,363.2 612,363.3 613,363.4 614,363.7 615,363.9 616,363.9 617,364.2 618,364.7 619,365.2 620,365.6 621,365.6 622,365.2 623,364.8 624,364.5 625,364.3 626,364.2 627,364.2 628,364.1 629,364 630,363.8 631,363.3 632,362.8 633,362.3 634,361.9 635,361.8 636,361.9 637,362 638,361.9 639,361.5 640,361.2 641,361 642,360.8 643,360.6 644,360.3 645,360.1 646,360.1 647,360.1 648,359.9 649,359.5 650,359.1 651,358.8 652,358.6 653,358.2 654,357.8 655,357.4 656,357.5 657,357.9 658,358.2 659,358.4 660,358.6 661,358.8 662,359.3 663,359.8 664,360.5 665,361.1 666,361.6 667,361.7 668,361.7 669,361.7 670,361.8 671,361.9 671.4,362" fill="none" stroke="#8468c8" stroke-width="1.4" stroke-linejoin="round" stroke-linecap="butt"/>
<polygon points="402,359 403,358.8 404,358.8 405,358.9 406,358.8 407,358.8 408,358.9 409,358.7 410,358.1 411,358.3 412,359 413,359.8 414,359.8 415,359.4 416,359.2 417,359.6 418,360.4 419,361.2 420,361.6 421,361.4 422,361.4 423,361.5 424,361.4 425,361.3 426,361.6 427,362 428,362.2 429,362.3 430,362.7 431,363.2 432,363.7 433,364 434,364.2 435,364.2 436,364.1 437,363.8 438,363.8 439,364.3 440,364.8 441,364.4 442,363.6 443,363.4 444,363.4 445,363.4 446,363.8 447,364.4 448,364.3 449,363.9 450,364 451,363.8 452,363.1 453,362.3 454,361.4 455,360.6 456,360.4 457,360.5 458,360.5 459,359.9 460,358.6 461,357.9 462,358.2 463,358.8 464,359.1 465,359 466,359.1 467,359.2 468,359.2 469,359 470,358.7 471,358.6 472,358.3 473,357.9 474,358 475,358.6 476,359 477,359.2 478,359.2 479,359.5 480,359.7 481,359.4 482,358.9 483,358.6 484,358.9 485,359.6 486,359.9 487,359.7 488,359.6 489,359.4 490,359.2 491,359.3 492,359.5 493,359.7 494,359.9 495,360.1 496,360.7 497,361.5 498,362 499,362 500,361.9 501,362.1 502,362.4 503,362.8 504,362.7 505,362.1 506,361.3 507,360.3 508,359.6 509,359.9 510,361 511,361.8 512,362.2 513,362.6 514,362.9 515,363 516,363.3 517,363.3 518,362.8 519,362.5 520,362.5 521,362.3 522,362.1 523,362.1 524,362.4 525,363 526,363.3 527,363.3 528,362.8 529,362.4 530,362.5 531,361.9 532,361.3 533,360.5 534,359.1 535,357.8 536,357 537,356 538,354.7 539,353.6 540,352.6 541,351.6 542,350.3 543,348.8 544,347.6 545,346.3 546,344.2 547,342 548,340.6 549,340.1 550,339.8 551,339.4 552,338.7 553,337.7 554,336.6 555,335.7 556,334.8 557,333.7 558,332.6 559,331.4 560,329.5 561,327.7 562,326.5 563,325.5 564,324.7 565,323.7 566,322.5 567,321.4 568,320.4 569,319.4 570,318.3 571,317.2 572,316 573,314.7 574,313.5 575,312.3 576,311.6 577,311.5 578,311.6 579,311.3 580,310.8 581,310.4 582,310 583,309.6 584,309.2 585,308.9 586,308.8 587,308.5 588,307.9 589,307.3 590,307.1 591,307.4 592,307.2 593,306.8 594,306.3 595,305.7 596,304.9 597,304.3 598,304.1 599,304.3 600,305.9 601,307.1 602,308 603,308.8 604,309 605,309.2 606,310.4 607,312.3 608,313.5 609,314.2 610,315 611,316.4 612,318 613,319.3 614,320 615,320.1 616,320.5 617,321.6 618,322.8 619,324.1 620,325.3 621,325.9 622,325.8 623,325.6 624,325.4 625,325.6 626,326.1 627,326.6 628,326.9 629,326.8 630,326.9 631,327 632,327.2 633,327.4 634,327.6 635,327.6 636,327.7 637,327.9 638,328.2 639,328.3 640,328.7 641,329.4 642,330.1 643,330.8 644,331.7 645,332.4 646,332.4 647,332.4 648,332.9 649,333.4 650,333.6 651,333.8 652,333.7 653,333.4 654,332.9 655,332.7 656,332.8 657,333.1 658,333.2 659,333 660,332.7 661,332.4 662,331.9 663,331.3 664,331.1 665,331.1 666,331.2 667,330.7 668,330.1 669,329.7 670,329.3 671,328.5 671.4,327.9 671.4,341.8 671,342.2 670,343 669,343.9 668,344.8 667,345.4 666,345.9 665,346 664,346.2 663,346.2 662,346.2 661,346.4 660,346.9 659,347 658,347 657,347.3 656,347.5 655,347.3 654,347 653,346.9 652,347 651,347.1 650,347.4 649,347.7 648,348 647,348.3 646,348.2 645,347.7 644,346.9 643,346.4 642,345.7 641,344.5 640,343.4 639,342.6 638,342.4 637,342.4 636,342.1 635,341.8 634,341.5 633,341 632,340.5 631,340.4 630,341.1 629,341.6 628,341.3 627,340.8 626,340.7 625,340.6 624,340.3 623,340.3 622,340.4 621,340.6 620,340.7 619,340.1 618,339.3 617,338.5 616,337.7 615,337 614,336.6 613,336.2 612,335.4 611,334.2 610,332.6 609,330.9 608,329.4 607,328.2 606,327.8 605,327.6 604,327.3 603,326.9 602,326.3 601,325.5 600,324.8 599,324.7 598,324.6 597,324.8 596,324.9 595,324.8 594,325.1 593,325.6 592,325.9 591,325.8 590,325.6 589,326 588,326.9 587,327.7 586,327.8 585,327.5 584,327.3 583,327.5 582,328.2 581,329 580,329.6 579,330 578,330.4 577,330.5 576,330.3 575,330.2 574,330.6 573,331.3 572,332.2 571,333 570,333.4 569,333.8 568,334.7 567,335.7 566,336.4 565,337.5 564,338.8 563,340 562,341 561,342.3 560,344 559,345.8 558,347.7 557,349.6 556,351 555,352.2 554,353.1 553,354.1 552,355.3 551,356.4 550,356.8 549,356.7 548,357 547,357.7 546,358.7 545,359.8 544,360.8 543,361.7 542,362.6 541,363.5 540,364.3 539,365.3 538,366.2 537,366.7 536,366.8 535,367 534,367.3 533,367.4 532,367.3 531,367.5 530,367.7 529,367.9 528,368.2 527,368.8 526,369 525,368.9 524,368.9 523,369.1 522,369.3 521,369.6 520,370.1 519,370.9 518,371.8 517,372.4 516,372.6 515,373 514,373.2 513,373.7 512,373.8 511,373.4 510,372.7 509,372.1 508,371.8 507,371.6 506,371.1 505,370.4 504,370.1 503,370.4 502,370.7 501,370.5 500,370.5 499,370.7 498,370.8 497,370.6 496,370.4 495,370.6 494,370.7 493,370.5 492,370.2 491,370 490,369.9 489,369.9 488,370.2 487,370.6 486,370.6 485,370.4 484,370 483,369.6 482,369.2 481,368.8 480,368.7 479,369 478,369.3 477,369.2 476,368.8 475,368.5 474,368.3 473,368.2 472,368.5 471,368.5 470,368.5 469,368.6 468,368.9 467,369 466,368.7 465,368.4 464,368.4 463,368.6 462,368.9 461,369.3 460,369.9 459,370.5 458,370.8 457,371.1 456,371.2 455,371.8 454,372.8 453,373.6 452,373.7 451,373.8 450,373.9 449,373.6 448,373.4 447,373.6 446,374 445,374.3 444,374 443,373.6 442,373.7 441,373.9 440,374 439,373.9 438,373.4 437,373.2 436,373.4 435,373.3 434,372.7 433,371.8 432,371.4 431,371.6 430,372.1 429,372.3 428,372.1 427,371.8 426,371.3 425,370.8 424,370.5 423,370.6 422,370.5 421,369.9 420,369.4 419,369.2 418,369.1 417,369.3 416,369.5 415,369.3 414,369 413,369 412,369 411,369 410,368.8 409,368.5 408,368.3 407,368.3 406,368.4 405,368.7 404,369 403,368.9 402,368.9" fill="#35895f" fill-opacity="0.2" stroke="none"/>
<polygon points="402,358.3 403,357.7 404,357.6 405,357.6 406,356.9 407,355.6 408,354.7 409,354.2 410,353.7 411,353.5 412,353.3 413,352.9 414,353.3 415,353.7 416,353.9 417,354.2 418,354.9 419,355.8 420,356.6 421,356.8 422,356.7 423,356.8 424,356.9 425,357.1 426,357.6 427,358.1 428,358.4 429,358.6 430,359.3 431,359.9 432,360.5 433,361.4 434,362.5 435,362.8 436,362.2 437,362.1 438,362.5 439,362.9 440,363.2 441,363.6 442,363.4 443,362.8 444,362.9 445,363.8 446,364.8 447,365.1 448,365.1 449,365.6 450,366 451,366.1 452,366.2 453,366.4 454,366.6 455,366.4 456,366 457,365.5 458,365 459,364.7 460,364.7 461,364.7 462,364.8 463,365 464,364.7 465,364 466,363.2 467,362.8 468,362.3 469,361.9 470,361.9 471,362.2 472,361.8 473,360.9 474,360.2 475,360.1 476,360.6 477,360.7 478,360.1 479,359.9 480,360.4 481,361.1 482,361.8 483,362.4 484,362.3 485,361.4 486,360.4 487,360 488,360.4 489,360.7 490,360.8 491,360.8 492,361.2 493,361.3 494,361 495,360.5 496,360.1 497,360.1 498,360.9 499,362.4 500,363.8 501,364.5 502,364.5 503,364.4 504,364.6 505,365.3 506,365.7 507,366 508,366.3 509,366.4 510,366.3 511,366.7 512,367 513,367.2 514,367.8 515,368.7 516,368.8 517,368.1 518,366.9 519,366.3 520,366 521,365.4 522,365.1 523,365.5 524,366.3 525,366.7 526,366.3 527,365.7 528,365.2 529,364.9 530,364.8 531,365 532,365.1 533,365 534,365.1 535,365.5 536,365.6 537,365.3 538,364.8 539,364.5 540,364.8 541,365.2 542,365.3 543,365 544,365.1 545,365.8 546,366.4 547,366.5 548,366.5 549,366.6 550,366.5 551,366.6 552,367 553,367.5 554,367.7 555,367.7 556,367.6 557,367.1 558,366.4 559,366 560,366.1 561,366.1 562,365.9 563,365.7 564,365.9 565,365.9 566,365.3 567,364.6 568,364.4 569,364.4 570,364.4 571,364.2 572,363.9 573,363.5 574,362.9 575,362.2 576,361.9 577,362.1 578,362.1 579,361.9 580,361.3 581,360.6 582,360 583,359.5 584,359.2 585,358.8 586,358.6 587,358.3 588,357.4 589,356.6 590,356.4 591,357.1 592,357.5 593,357.5 594,357.3 595,357.5 596,357.7 597,357.3 598,356.6 599,356.2 600,356.8 601,357.5 602,357.5 603,357.5 604,358 605,358.3 606,358.1 607,357.5 608,357.3 609,357.3 610,357.4 611,358 612,358.7 613,358.7 614,357.9 615,357.1 616,357.3 617,358.3 618,359.2 619,360.3 620,361.2 621,360.8 622,359.9 623,359.6 624,359.5 625,359.4 626,359.5 627,359.5 628,358.9 629,358.3 630,358 631,358 632,357.9 633,357.8 634,357.3 635,357 636,357.3 637,357.8 638,357.6 639,356.9 640,356.2 641,355.4 642,355.1 643,355.3 644,355.6 645,355.5 646,355.2 647,354.9 648,354.7 649,354.7 650,354.5 651,354.1 652,353.3 653,352.6 654,352.7 655,353.3 656,353.6 657,353.3 658,352.8 659,352.7 660,353.1 661,353.4 662,353.7 663,354.4 664,355.1 665,355.5 666,355.6 667,355.7 668,356.1 669,356.6 670,356.8 671,356.9 671.4,357.2 671.4,368 671,367.3 670,366.8 669,366.7 668,366.7 667,366.6 666,366.5 665,366 664,365.3 663,364.7 662,364.4 661,364.3 660,364.3 659,363.9 658,363.4 657,363.2 656,363.1 655,363.4 654,364.1 653,364.9 652,365.1 651,364.8 650,364.6 649,364.7 648,365.4 647,366.2 646,366.7 645,366.6 644,366.1 643,365.7 642,365.8 641,366.2 640,366.9 639,367.7 638,368.4 637,368.8 636,368.7 635,368.2 634,367.5 633,367.3 632,367.7 631,368.3 630,369 629,369.4 628,369.7 627,370.1 626,370.6 625,370.8 624,370.5 623,370.3 622,370.6 621,371.1 620,371.2 619,371.3 618,371.3 617,371 616,370.5 615,370.1 614,369.6 613,369.3 612,368.8 611,368.3 610,367.9 609,367.3 608,367 607,367.3 606,368 605,368.6 604,369 603,369.2 602,369.1 601,368.8 600,368.5 599,368 598,367.8 597,367.7 596,367.6 595,367.7 594,367.8 593,367.7 592,367.7 591,367.8 590,367.9 589,368.6 588,369.3 587,369.9 586,370.1 585,370.1 584,370.2 583,370.6 582,371.2 581,372 580,372.9 579,373.6 578,373.9 577,374.2 576,374.6 575,374.6 574,374.6 573,374.8 572,375 571,375.3 570,376 569,376.7 568,377.3 567,377.6 566,377.7 565,377.7 564,377.9 563,378.2 562,378.4 561,378.8 560,379 559,378.8 558,378.4 557,378.2 556,378.4 555,378.7 554,378.8 553,378.9 552,378.7 551,378.2 550,377.9 549,378 548,377.9 547,377.6 546,377.5 545,377.6 544,377.6 543,377.5 542,377.4 541,377.3 540,377.2 539,376.8 538,376.8 537,376.8 536,376.5 535,376.1 534,375.9 533,375.4 532,374.7 531,374.4 530,374.5 529,374.8 528,375.1 527,375.6 526,376.1 525,376.6 524,376.7 523,376.5 522,376.2 521,376.2 520,376.7 519,377.2 518,377.7 517,378 516,378.3 515,378.6 514,378.5 513,378.4 512,378.3 511,378 510,377.7 509,377.5 508,377.3 507,377 506,376.7 505,376.3 504,376 503,375.9 502,375.5 501,374.5 500,373.4 499,372.8 498,372.5 497,372.3 496,372.3 495,372.1 494,371.8 493,371.1 492,370.6 491,370.3 490,370.5 489,370.7 488,371.3 487,372.2 486,372.9 485,373 484,372.7 483,372.4 482,371.8 481,371.4 480,371.1 479,371.2 478,371.5 477,371.6 476,371.5 475,371.5 474,372.3 473,373 472,373.2 471,373.3 470,373.7 469,374.2 468,374.6 467,374.9 466,375.3 465,375.8 464,376 463,376 462,375.8 461,375.8 460,376 459,376 458,375.9 457,375.9 456,376.2 455,376.7 454,376.9 453,376.9 452,376.8 451,376.4 450,376 449,375.8 448,375.9 447,375.8 446,375.4 445,375.4 444,375.5 443,375.4 442,374.9 441,374.4 440,374.1 439,374 438,373.8 437,373.5 436,373.4 435,373.6 434,373.5 433,373.3 432,372.5 431,371.3 430,370.8 429,370.7 428,370.5 427,370 426,369.5 425,369.3 424,369.2 423,368.9 422,368.1 421,367.2 420,366.5 419,366.1 418,365.8 417,365.1 416,364.3 415,363.7 414,363.3 413,363 412,363.4 411,363.9 410,364.5 409,364.7 408,364.9 407,365.5 406,366.5 405,367.4 404,368.4 403,369.2 402,369.9" fill="#8468c8" fill-opacity="0.2" stroke="none"/>
<line x1="556.8" y1="385" x2="613.9" y2="385" stroke="#3a8c66" stroke-width="2.2" stroke-linecap="round"/>
<line x1="618.1" y1="385" x2="643" y2="385" stroke="#3a8c66" stroke-width="2.2" stroke-linecap="round"/>
<line x1="653.1" y1="385" x2="663.2" y2="385" stroke="#3a8c66" stroke-width="2.2" stroke-linecap="round"/>
<line x1="666.3" y1="385" x2="666.9" y2="385" stroke="#3a8c66" stroke-width="2.2" stroke-linecap="round"/>
<line x1="545.5" y1="388.6" x2="642.5" y2="388.6" stroke="#000" stroke-width="2.7" stroke-linecap="round"/>
<text x="70.3" y="228.4" font-size="12.7" text-anchor="start" fill="#000">Cue direction</text>
<rect x="152.4" y="218" width="11.2" height="11" fill="#f2f2f2"/>
<line x1="153.6" y1="223.4" x2="162.4" y2="223.4" stroke="#b0b0b0" stroke-width="1.3"/>
<text x="169.6" y="227" font-size="10" text-anchor="start" fill="#000">neutral</text>
<rect x="207.4" y="218" width="11.2" height="11" fill="#f2f2f2"/>
<line x1="208.6" y1="223.4" x2="217.4" y2="223.4" stroke="#0000ff" stroke-width="1.3"/>
<text x="225.4" y="227" font-size="10" text-anchor="start" fill="#000">left</text>
<rect x="245" y="218" width="11.2" height="11" fill="#f2f2f2"/>
<line x1="246.2" y1="223.4" x2="255" y2="223.4" stroke="#ff0000" stroke-width="1.3"/>
<text x="262.2" y="227" font-size="10" text-anchor="start" fill="#000">right</text>
<text x="455.3" y="228.2" font-size="12.7" text-anchor="start" fill="#000">Cue category</text>
<rect x="537.8" y="217.8" width="11" height="11" fill="#f2f2f2"/>
<line x1="539" y1="223.2" x2="547.6" y2="223.2" stroke="#35895f" stroke-width="1.3"/>
<text x="555.3" y="226.8" font-size="10" text-anchor="start" fill="#000">WM</text>
<rect x="580.1" y="217.8" width="11" height="11" fill="#f2f2f2"/>
<line x1="581.3" y1="223.2" x2="589.9" y2="223.2" stroke="#8468c8" stroke-width="1.3"/>
<text x="597.7" y="226.8" font-size="10" text-anchor="start" fill="#000">LTM</text>
<text x="64.9" y="470.2" font-size="12.7" text-anchor="start" fill="#000">Cue direction</text>
<rect x="146.4" y="459.8" width="11.2" height="11" fill="#f2f2f2"/>
<line x1="147.6" y1="465.2" x2="156.4" y2="465.2" stroke="#b0b0b0" stroke-width="1.3"/>
<text x="163.6" y="468.8" font-size="10" text-anchor="start" fill="#000">neutral</text>
<rect x="201.6" y="459.8" width="11.2" height="11" fill="#f2f2f2"/>
<line x1="202.8" y1="465.2" x2="211.6" y2="465.2" stroke="#0000ff" stroke-width="1.3"/>
<text x="219" y="468.8" font-size="10" text-anchor="start" fill="#000">bottom</text>
<rect x="257" y="459.8" width="11.2" height="11" fill="#f2f2f2"/>
<line x1="258.2" y1="465.2" x2="267" y2="465.2" stroke="#ff0000" stroke-width="1.3"/>
<text x="274.2" y="468.8" font-size="10" text-anchor="start" fill="#000">top</text>
<text x="455.3" y="470.2" font-size="12.7" text-anchor="start" fill="#000">Cue category</text>
<rect x="537.8" y="459.8" width="11" height="11" fill="#f2f2f2"/>
<line x1="539" y1="465.2" x2="547.6" y2="465.2" stroke="#35895f" stroke-width="1.3"/>
<text x="555.3" y="468.8" font-size="10" text-anchor="start" fill="#000">WM</text>
<rect x="580.1" y="459.8" width="11" height="11" fill="#f2f2f2"/>
<line x1="581.3" y1="465.2" x2="589.9" y2="465.2" stroke="#8468c8" stroke-width="1.3"/>
<text x="597.7" y="468.8" font-size="10" text-anchor="start" fill="#000">LTM</text>
<text x="36.7" y="530.6" font-size="19.3" text-anchor="start" fill="#000" font-weight="bold">e</text>
<text x="161.3" y="533.6" font-size="16" text-anchor="middle" fill="#000">WM</text>
<line x1="54.5" y1="543.2" x2="54.5" y2="710.2" stroke="#a0a0a0" stroke-width="1"/>
<line x1="54.5" y1="710.2" x2="279.4" y2="710.2" stroke="#a0a0a0" stroke-width="1"/>
<line x1="49.9" y1="550.6" x2="54.5" y2="550.6" stroke="#a0a0a0" stroke-width="1"/>
<text x="46.4" y="554.8" font-size="10.6" text-anchor="end" fill="#111">2</text>
<line x1="49.9" y1="603.8" x2="54.5" y2="603.8" stroke="#a0a0a0" stroke-width="1"/>
<text x="46.4" y="608" font-size="10.6" text-anchor="end" fill="#111">1.5</text>
<line x1="49.9" y1="657" x2="54.5" y2="657" stroke="#a0a0a0" stroke-width="1"/>
<text x="46.4" y="661.2" font-size="10.6" text-anchor="end" fill="#111">1</text>
<line x1="49.9" y1="710.2" x2="54.5" y2="710.2" stroke="#a0a0a0" stroke-width="1"/>
<text x="46.4" y="714.4" font-size="10.6" text-anchor="end" fill="#111">0.5</text>
<line x1="54.5" y1="710.2" x2="54.5" y2="714.7" stroke="#a0a0a0" stroke-width="1"/>
<text x="54.5" y="729" font-size="10.6" text-anchor="middle" fill="#111">-200</text>
<line x1="92" y1="710.2" x2="92" y2="714.7" stroke="#a0a0a0" stroke-width="1"/>
<text x="92" y="729" font-size="10.6" text-anchor="middle" fill="#111">0</text>
<line x1="129.5" y1="710.2" x2="129.5" y2="714.7" stroke="#a0a0a0" stroke-width="1"/>
<text x="129.5" y="729" font-size="10.6" text-anchor="middle" fill="#111">200</text>
<line x1="166.9" y1="710.2" x2="166.9" y2="714.7" stroke="#a0a0a0" stroke-width="1"/>
<text x="166.9" y="729" font-size="10.6" text-anchor="middle" fill="#111">400</text>
<line x1="204.4" y1="710.2" x2="204.4" y2="714.7" stroke="#a0a0a0" stroke-width="1"/>
<text x="204.4" y="729" font-size="10.6" text-anchor="middle" fill="#111">600</text>
<line x1="241.9" y1="710.2" x2="241.9" y2="714.7" stroke="#a0a0a0" stroke-width="1"/>
<text x="241.9" y="729" font-size="10.6" text-anchor="middle" fill="#111">800</text>
<line x1="279.4" y1="710.2" x2="279.4" y2="714.7" stroke="#a0a0a0" stroke-width="1"/>
<text x="279.4" y="729" font-size="10.6" text-anchor="middle" fill="#111">1000</text>
<text x="166.9" y="742.2" font-size="11.4" text-anchor="middle" fill="#111">Time relative to cue onset</text>
<text transform="translate(28.3,625.5) rotate(-90)" font-size="11.4" text-anchor="middle" fill="#111">Rate (Hz)</text>
<polygon points="54,628.8 54.7,629.1 55.4,631.6 56.1,628.5 56.8,629.2 57.5,628.6 58.2,630.2 58.9,629.3 59.6,628.9 60.3,628 61,628.9 61.7,630.4 62.4,626.4 63.1,629.4 63.8,629.7 64.5,630.2 65.2,628.5 65.9,632.7 66.6,631.3 67.3,632.5 68,632.5 68.7,631.8 69.4,634.2 70.1,633.2 70.8,635.4 71.5,637.4 72.2,638.8 72.9,639.8 73.6,640.7 74.3,644.8 75,643.1 75.7,640.7 76.4,641.5 77.1,641.8 77.8,642.6 78.5,642.2 79.2,642.2 79.9,646 80.6,644 81.3,643.4 82,643.7 82.7,644.1 83.4,646.6 84.1,645.7 84.8,646.2 85.5,640.4 86.2,645.4 86.9,647.2 87.6,648.6 88.3,645.8 89,643.3 89.7,646.8 90.4,645.5 91.1,644 91.8,646.2 92.5,649.3 93.2,650 93.9,649.4 94.6,647.5 95.3,652.5 96,647.9 96.7,649.2 97.4,648 98.1,652.2 98.8,651.7 99.5,652.5 100.2,652 100.9,652.4 101.6,653.2 102.3,651.2 103,656 103.7,656.7 104.4,655.5 105.1,656.6 105.8,658 106.5,660.5 107.2,657.2 107.9,654.6 108.6,651.9 109.3,648.7 110,648.2 110.7,647.6 111.4,645.5 112.1,644.3 112.8,643.5 113.5,641.4 114.2,640.4 114.9,640.2 115.6,638.8 116.3,637.8 117,637.6 117.7,634 118.4,637.2 119.1,633.3 119.8,635.4 120.5,633.9 121.2,633.7 121.9,630.5 122.6,627.6 123.3,628.8 124,626.2 124.7,624.4 125.4,622.9 126.1,622.7 126.8,620.9 127.5,618.1 128.2,612 128.9,610.1 129.6,607.7 130.3,606.7 131,601.2 131.7,596.2 132.4,593.6 133.1,587.5 133.8,583.2 134.5,579 135.2,574.8 135.9,581.6 136.6,584.5 137.3,586.7 138,588.9 138.7,594.5 139.4,600.2 140.1,601.4 140.8,604.9 141.5,611 142.2,612.2 142.9,616.5 143.6,624.7 144.3,630.2 145,636.3 145.7,641.7 146.4,641 147.1,635.3 147.8,629.8 148.5,625.2 149.2,622 149.9,615.3 150.6,606.8 151.3,597.6 152,583.4 152.7,578 153.4,566.7 154.1,552.9 154.8,546.1 155.5,549.8 156.2,547.9 156.9,545.9 157.6,546.4 158.3,545.1 159,545.5 159.7,549.1 160.4,549.6 161.1,550.1 161.8,553.1 162.5,555.8 163.2,556.3 163.9,560.6 164.6,558.9 165.3,563.9 166,563.9 166.7,562.3 167.4,565 168.1,567.7 168.8,566.8 169.5,566.5 170.2,570.3 170.9,574.5 171.6,571.4 172.3,575.6 173,576.7 173.7,578 174.4,579.3 175.1,581.2 175.8,584.8 176.5,586 177.2,585.7 177.9,590.8 178.6,588.9 179.3,593.3 180,594.9 180.7,598.1 181.4,598.9 182.1,601.5 182.8,601.2 183.5,603.4 184.2,603.6 184.9,606.7 185.6,603.7 186.3,606.9 187,606.9 187.7,607.1 188.4,606.9 189.1,608.7 189.8,606.4 190.5,607 191.2,610.3 191.9,608 192.6,612.4 193.3,610.7 194,611.7 194.7,612 195.4,612.4 196.1,610.2 196.8,608.9 197.5,608.2 198.2,608.9 198.9,608 199.6,606.9 200.3,604.9 201,604 201.7,602.2 202.4,605.8 203.1,606.5 203.8,605 204.5,607 205.2,607.9 205.9,606.5 206.6,608 207.3,607 208,604.3 208.7,606.2 209.4,606.9 210.1,608.4 210.8,606.8 211.5,608.1 212.2,608.6 212.9,611.1 213.6,612.7 214.3,615.2 215,616.8 215.7,618.1 216.4,620.4 217.1,622.5 217.8,624.9 218.5,628.9 219.2,625.6 219.9,631.2 220.6,634.8 221.3,638.3 222,637.8 222.7,642.2 223.4,644.9 224.1,643.2 224.8,641.3 225.5,643.7 226.2,643.3 226.9,646.1 227.6,644.8 228.3,648.7 229,646.8 229.7,645.5 230.4,646.1 231.1,645.8 231.8,648.5 232.5,650.1 233.2,647.8 233.9,649.1 234.6,646.6 235.3,648.5 236,651.2 236.7,646.2 237.4,649.7 238.1,649.5 238.8,645 239.5,645.3 240.2,646.3 240.9,649.2 241.6,647.6 242.3,648.1 243,649.5 243.7,648.9 244.4,649.1 245.1,648.7 245.8,650.7 246.5,648.5 247.2,651.9 247.9,649.2 248.6,648.6 249.3,650.9 250,650.7 250.7,647.4 251.4,650.4 252.1,648.6 252.8,649.5 253.5,652 254.2,650.1 254.9,651.8 255.6,651.3 256.3,654.6 257,651.9 257.7,650.2 258.4,650.2 259.1,650.6 259.8,652.2 260.5,652.3 261.2,653.6 261.9,652.5 262.6,652.4 263.3,652.6 264,652 264.7,652.6 265.4,653.4 266.1,653.3 266.8,650 267.5,646.4 268.2,646.2 268.9,646 269.6,640.5 270.3,641.7 271,641.6 271.7,638.4 272.4,636.2 273.1,640.1 273.8,640.4 274.5,638.8 275.2,641.6 275.9,642.2 276.6,639.7 277.3,645.4 278,641.2 278.7,642.3 279.2,641.8 279.2,685 278.7,683.8 278,684.3 277.3,684 276.6,680.7 275.9,683 275.2,682.2 274.5,681.2 273.8,680.3 273.1,680.8 272.4,683.5 271.7,684.5 271,684.7 270.3,685.9 269.6,687.2 268.9,686.5 268.2,687.2 267.5,689 266.8,688 266.1,685.9 265.4,688.3 264.7,686.6 264,686.6 263.3,688.2 262.6,686.2 261.9,683.6 261.2,684.4 260.5,685 259.8,685.3 259.1,681.1 258.4,681.1 257.7,679.8 257,682.2 256.3,680.1 255.6,678.1 254.9,679.5 254.2,677.7 253.5,674.2 252.8,674.6 252.1,675.9 251.4,677.1 250.7,676.6 250,677.4 249.3,675 248.6,676.9 247.9,678.3 247.2,679.2 246.5,680.2 245.8,679 245.1,680 244.4,676.9 243.7,676.9 243,677.2 242.3,674.9 241.6,675.2 240.9,676.2 240.2,672.5 239.5,672.2 238.8,670.1 238.1,672.6 237.4,669.7 236.7,668.7 236,667.5 235.3,668.1 234.6,669.7 233.9,670.3 233.2,672.2 232.5,674.2 231.8,674.2 231.1,674.8 230.4,672.7 229.7,674.4 229,677.6 228.3,677.5 227.6,676.6 226.9,678.2 226.2,678.9 225.5,677.5 224.8,676 224.1,675.9 223.4,678.3 222.7,676.9 222,674.4 221.3,672.1 220.6,674.1 219.9,672.9 219.2,674.2 218.5,671.8 217.8,666.2 217.1,662.7 216.4,665.5 215.7,658.8 215,652 214.3,648.5 213.6,650.1 212.9,650.6 212.2,652.4 211.5,650.3 210.8,651 210.1,648.7 209.4,649.6 208.7,647 208,647 207.3,647.5 206.6,649.1 205.9,644.9 205.2,646.6 204.5,648 203.8,646.5 203.1,647.2 202.4,648.2 201.7,644.3 201,644.5 200.3,647.7 199.6,648.8 198.9,645.1 198.2,642.6 197.5,646.7 196.8,644.6 196.1,647 195.4,650.2 194.7,648.7 194,645.8 193.3,644.6 192.6,646.9 191.9,645.2 191.2,646.9 190.5,648.5 189.8,645.9 189.1,641.9 188.4,640.5 187.7,638.5 187,636.9 186.3,634.8 185.6,635.6 184.9,630.2 184.2,628.9 183.5,630 182.8,628.6 182.1,625.7 181.4,627.8 180.7,625.2 180,621.3 179.3,619.9 178.6,615.8 177.9,615.8 177.2,616 176.5,612.8 175.8,615.4 175.1,610.7 174.4,610.2 173.7,611.9 173,611.3 172.3,608.1 171.6,607.5 170.9,607.3 170.2,607.2 169.5,605.1 168.8,601.6 168.1,602.7 167.4,601.1 166.7,599.9 166,598.6 165.3,595.8 164.6,597 163.9,598.6 163.2,594.9 162.5,597.1 161.8,591.4 161.1,594.6 160.4,590.7 159.7,591.2 159,591.1 158.3,586.5 157.6,589.8 156.9,590.8 156.2,589.8 155.5,589 154.8,591.8 154.1,594.5 153.4,605.9 152.7,613.9 152,622.1 151.3,633.5 150.6,639.1 149.9,647.5 149.2,657.6 148.5,660 147.8,658.3 147.1,665.8 146.4,666.8 145.7,668.2 145,661.8 144.3,657.2 143.6,653.9 142.9,647.4 142.2,641.2 141.5,639.2 140.8,633.7 140.1,633.6 139.4,629.6 138.7,629.6 138,627.6 137.3,627.2 136.6,622.9 135.9,623.9 135.2,628.1 134.5,631.4 133.8,633.6 133.1,630.4 132.4,634.9 131.7,634.7 131,638.2 130.3,639.8 129.6,642.8 128.9,645.5 128.2,648.1 127.5,650.5 126.8,654.1 126.1,655 125.4,656.2 124.7,661.9 124,661.3 123.3,663.9 122.6,665.2 121.9,665.7 121.2,664.8 120.5,664.4 119.8,669.3 119.1,667.1 118.4,668.4 117.7,667.3 117,667.9 116.3,673.1 115.6,670.8 114.9,673.9 114.2,674.5 113.5,677.3 112.8,682 112.1,678 111.4,680.9 110.7,684.6 110,683.1 109.3,683.7 108.6,685.6 107.9,685.7 107.2,684.1 106.5,685.6 105.8,688.7 105.1,688.7 104.4,690.8 103.7,689.7 103,688 102.3,685.6 101.6,684.9 100.9,684 100.2,685.2 99.5,684.4 98.8,684.1 98.1,682 97.4,683.1 96.7,681.5 96,684.1 95.3,682.7 94.6,683.1 93.9,683.8 93.2,682.6 92.5,683.8 91.8,684.4 91.1,683.7 90.4,685.6 89.7,686.5 89,686.2 88.3,682.7 87.6,687.4 86.9,682.8 86.2,682.6 85.5,682.6 84.8,681.7 84.1,681.6 83.4,681.1 82.7,682.7 82,680.5 81.3,680 80.6,680 79.9,677.1 79.2,677.6 78.5,679.1 77.8,680.3 77.1,678.6 76.4,681.2 75.7,678.8 75,679 74.3,677.5 73.6,678.8 72.9,674.1 72.2,675.6 71.5,677.1 70.8,675.7 70.1,676.1 69.4,675.6 68.7,674.4 68,672.7 67.3,672 66.6,670.9 65.9,672 65.2,672.4 64.5,670.3 63.8,669.4 63.1,670 62.4,669.8 61.7,669.2 61,668.9 60.3,668.6 59.6,670.6 58.9,668.6 58.2,672.2 57.5,670.2 56.8,671.1 56.1,672.8 55.4,671.4 54.7,669.7 54,672" fill="#0000ff" fill-opacity="0.3" stroke="none"/>
<polyline points="54,653.8 54.8,653.7 55.6,651.1 56.4,651.4 57.2,649.7 58,648.3 58.8,647.8 59.6,646.9 60.4,646.4 61.2,647.9 62,649.2 62.8,648.8 63.6,650.9 64.4,651 65.2,652.5 66,654.6 66.8,657.2 67.6,657.4 68.4,658.6 69.2,661.4 70,661.2 70.8,662.1 71.6,663 72.4,665.5 73.2,665.9 74,666.5 74.8,666.8 75.6,665.6 76.4,663.8 77.2,662.7 78,662.5 78.8,662.1 79.6,663.3 80.4,662 81.2,662.1 82,662.5 82.8,665 83.6,664.4 84.4,666.8 85.2,668.4 86,668.2 86.8,668.2 87.6,665.2 88.4,665.1 89.2,663.7 90,664.1 90.8,663.2 91.6,663.1 92.4,664.7 93.2,664.6 94,664 94.8,664.1 95.6,664.2 96.4,666.5 97.2,669.3 98,668.4 98.8,669.8 99.6,670.4 100.4,672.3 101.2,673.1 102,673.2 102.8,673.4 103.6,676.1 104.4,679.1 105.2,678.5 106,677.6 106.8,675.4 107.6,673.2 108.4,673.6 109.2,671.4 110,668.4 110.8,666.2 111.6,664.4 112.4,661.6 113.2,660.6 114,658.5 114.8,655.5 115.6,655.6 116.4,654.5 117.2,653.8 118,654.1 118.8,653.1 119.6,653.3 120.4,653.2 121.2,651.6 122,649.5 122.8,649.6 123.6,649.6 124.4,646.9 125.2,644.6 126,643 126.8,640.4 127.6,637.1 128.4,633.9 129.2,629.1 130,625.5 130.8,621.9 131.6,617.2 132.4,610.9 133.2,607.1 134,602.7 134.8,601.5 135.6,600.2 136.4,603.2 137.2,605.2 138,607.1 138.8,610.7 139.6,612.7 140.4,615.7 141.2,619.1 142,624.5 142.8,630.8 143.6,637.7 144.4,643.8 145.2,652.6 146,658.4 146.8,651.4 147.6,647.8 148.4,643.6 149.2,628.2 150,610.5 150.8,603.2 151.6,596.3 152.4,589 153.2,582.5 154,576.3 154.8,571.5 155.6,569.6 156.4,568.6 157.2,568.6 158,570.5 158.8,569 159.6,569.1 160.4,568.8 161.2,569.3 162,570 162.8,573.2 163.6,573.1 164.4,572.3 165.2,575.5 166,577.8 166.8,578.9 167.6,580.5 168.4,582.5 169.2,584.9 170,585.8 170.8,588.5 171.6,591.3 172.4,590.8 173.2,591 174,593.4 174.8,595.9 175.6,595.6 176.4,597 177.2,600.2 178,602.3 178.8,603.1 179.6,603.3 180.4,608.1 181.2,610.9 182,615.4 182.8,617.3 183.6,619.7 184.4,622 185.2,622.5 186,624.6 186.8,626.2 187.6,626.7 188.4,629.1 189.2,629.9 190,633 190.8,634.6 191.6,633.4 192.4,633.4 193.2,632.6 194,632.1 194.8,631.8 195.6,631.5 196.4,629.5 197.2,628.4 198,626.3 198.8,626.6 199.6,626.7 200.4,625.5 201.2,624 202,622.3 202.8,621.9 203.6,622.4 204.4,621.5 205.2,621.7 206,623.3 206.8,623.3 207.6,625.7 208.4,624.4 209.2,626 210,626 210.8,627.8 211.6,628.6 212.4,630.7 213.2,632 214,633.3 214.8,635.6 215.6,637.4 216.4,637 217.2,638.9 218,640.9 218.8,647.3 219.6,654.7 220.4,655 221.2,656.2 222,656.5 222.8,658.5 223.6,660 224.4,663.1 225.2,661.2 226,662 226.8,661.8 227.6,660.6 228.4,661.7 229.2,663 230,662.3 230.8,662.5 231.6,662.8 232.4,660.4 233.2,659.7 234,659.7 234.8,658.6 235.6,656.3 236.4,656.1 237.2,657.2 238,658.1 238.8,659.6 239.6,660 240.4,660.5 241.2,660 242,661.1 242.8,662.8 243.6,662.5 244.4,664.4 245.2,664.1 246,663.8 246.8,664.7 247.6,663.5 248.4,663 249.2,662.9 250,663 250.8,663.7 251.6,659.2 252.4,659.2 253.2,658.6 254,660 254.8,659.9 255.6,659.7 256.4,663.5 257.2,663.4 258,664.8 258.8,664.9 259.6,666 260.4,667.8 261.2,670.1 262,671.1 262.8,671.3 263.6,673.3 264.4,674.1 265.2,675.7 266,674.7 266.8,673.7 267.6,671.6 268.4,670.7 269.2,669.8 270,667.9 270.8,665.5 271.6,665.2 272.4,661.9 273.2,660.5 274,659.2 274.8,660.8 275.6,660 276.4,664.1 277.2,663.6 278,662.2 278.8,663.2 279.2,664.7" fill="none" stroke="#0000ff" stroke-width="2.0" stroke-linejoin="round" stroke-linecap="butt"/>
<polygon points="54,630.6 54.7,628.5 55.4,630.2 56.1,633.2 56.8,629.8 57.5,631.8 58.2,632.5 58.9,636.5 59.6,633.7 60.3,636.1 61,633.6 61.7,633.9 62.4,637.1 63.1,636.9 63.8,633.9 64.5,637.8 65.2,637.2 65.9,634.6 66.6,634.9 67.3,634.3 68,632.3 68.7,631.3 69.4,630.4 70.1,630.1 70.8,627.9 71.5,628.8 72.2,626.2 72.9,627.7 73.6,626.7 74.3,625.1 75,628.9 75.7,631.6 76.4,631.2 77.1,628 77.8,632.5 78.5,631.9 79.2,632.1 79.9,632 80.6,633.7 81.3,636.1 82,635.1 82.7,633.7 83.4,633.5 84.1,634.3 84.8,636.4 85.5,638.4 86.2,634.4 86.9,635.9 87.6,635.7 88.3,635.5 89,637.5 89.7,638.8 90.4,637 91.1,638.8 91.8,643.4 92.5,643.5 93.2,644.7 93.9,644.3 94.6,644.9 95.3,645.4 96,643.3 96.7,641.7 97.4,642.9 98.1,643.5 98.8,640.3 99.5,642.6 100.2,641.4 100.9,638.4 101.6,638.9 102.3,638.4 103,638.8 103.7,638.1 104.4,636.5 105.1,638.9 105.8,644.9 106.5,646.3 107.2,649 107.9,651.5 108.6,655.4 109.3,654 110,659.4 110.7,656.9 111.4,659.1 112.1,659.9 112.8,656 113.5,658.3 114.2,657.5 114.9,657.5 115.6,657 116.3,653.5 117,651.8 117.7,652.5 118.4,650.9 119.1,646.7 119.8,643.8 120.5,647.5 121.2,641.8 121.9,636.2 122.6,629.8 123.3,626.3 124,623.3 124.7,617.7 125.4,617.2 126.1,612.2 126.8,610.6 127.5,606.8 128.2,605.2 128.9,603.9 129.6,603.8 130.3,601.5 131,599.8 131.7,600 132.4,599.4 133.1,600.4 133.8,597.2 134.5,595.1 135.2,596.1 135.9,597.5 136.6,595.5 137.3,598.9 138,601.3 138.7,605.2 139.4,607.8 140.1,609 140.8,612.8 141.5,617.5 142.2,622.8 142.9,627.4 143.6,632.1 144.3,635.1 145,640 145.7,637.5 146.4,630.4 147.1,627.5 147.8,620.9 148.5,618.7 149.2,614.2 149.9,609.4 150.6,608.1 151.3,603 152,600 152.7,596.7 153.4,592.8 154.1,592.5 154.8,589.4 155.5,590.7 156.2,589.3 156.9,591.1 157.6,592.1 158.3,592.8 159,593.6 159.7,596.3 160.4,599.8 161.1,598.7 161.8,599.9 162.5,601.3 163.2,607 163.9,607.2 164.6,606.9 165.3,608 166,606.6 166.7,608 167.4,609.4 168.1,609.8 168.8,609 169.5,609.9 170.2,612.6 170.9,612.8 171.6,609.8 172.3,612 173,612.8 173.7,609 174.4,608.9 175.1,605.6 175.8,607.6 176.5,603.9 177.2,602.5 177.9,603.2 178.6,606 179.3,600.6 180,598.4 180.7,601.6 181.4,602.5 182.1,605.2 182.8,601.6 183.5,601.8 184.2,604.7 184.9,606.8 185.6,607.8 186.3,609.5 187,606.5 187.7,608.2 188.4,610.3 189.1,612.3 189.8,611.6 190.5,609.9 191.2,608.9 191.9,611.6 192.6,612 193.3,614.2 194,610 194.7,611.9 195.4,607.6 196.1,608.1 196.8,607.8 197.5,607.8 198.2,606.6 198.9,606.4 199.6,606.4 200.3,605.3 201,606.2 201.7,604.5 202.4,605.1 203.1,607.6 203.8,606.3 204.5,606.2 205.2,606.3 205.9,606.8 206.6,607.8 207.3,606.3 208,609.6 208.7,610.8 209.4,610.3 210.1,607.9 210.8,606.5 211.5,608.6 212.2,610.1 212.9,611.4 213.6,610.3 214.3,610.6 215,613.4 215.7,610.9 216.4,613.6 217.1,613.6 217.8,610.7 218.5,613.1 219.2,612.6 219.9,612.9 220.6,612.5 221.3,614.1 222,618.2 222.7,618.3 223.4,620.1 224.1,619.3 224.8,621.3 225.5,622.4 226.2,621.5 226.9,622.4 227.6,626.6 228.3,626.4 229,625 229.7,626.4 230.4,628 231.1,629.8 231.8,626.1 232.5,628.4 233.2,630.9 233.9,628.3 234.6,629.8 235.3,624.4 236,630.1 236.7,629.2 237.4,627.7 238.1,632.9 238.8,634.9 239.5,636.4 240.2,637.5 240.9,636.7 241.6,636.7 242.3,638.3 243,640.3 243.7,642.1 244.4,642.1 245.1,643.6 245.8,645 246.5,644.7 247.2,647.8 247.9,647.6 248.6,642.7 249.3,643.3 250,642.4 250.7,642.9 251.4,645.5 252.1,643.5 252.8,643.5 253.5,645 254.2,646.8 254.9,645.3 255.6,645.5 256.3,647.6 257,647.3 257.7,647.4 258.4,648.1 259.1,645.5 259.8,647.2 260.5,646.4 261.2,649.1 261.9,648.9 262.6,646.9 263.3,650.7 264,648.2 264.7,652 265.4,651.4 266.1,650.3 266.8,650.6 267.5,652.5 268.2,653.7 268.9,653.5 269.6,655.8 270.3,653.8 271,656.3 271.7,656.6 272.4,654.3 273.1,657.6 273.8,655.6 274.5,654.1 275.2,657.2 275.9,658.6 276.6,660.6 277.3,659.2 278,662.4 278.7,662.9 279.2,662.4 279.2,695.9 278.7,695.3 278,693.3 277.3,690.8 276.6,690.8 275.9,689.4 275.2,687 274.5,687 273.8,688.7 273.1,688.5 272.4,689.4 271.7,682.6 271,685 270.3,681.1 269.6,683.6 268.9,684.7 268.2,682.3 267.5,681.3 266.8,682.7 266.1,681.9 265.4,681.9 264.7,681.2 264,681.4 263.3,681.2 262.6,681.2 261.9,681.6 261.2,680.6 260.5,676.9 259.8,677.8 259.1,679.1 258.4,679 257.7,678.4 257,679.5 256.3,676.7 255.6,672.9 254.9,675.5 254.2,676 253.5,674.6 252.8,674.9 252.1,673.4 251.4,673.5 250.7,674 250,673.4 249.3,673 248.6,671.4 247.9,673.1 247.2,671 246.5,671.9 245.8,669.7 245.1,670.7 244.4,673.1 243.7,670.8 243,670.8 242.3,667.5 241.6,669.3 240.9,669.4 240.2,670.6 239.5,666.5 238.8,668.8 238.1,668.7 237.4,668.5 236.7,665.3 236,667.7 235.3,671.2 234.6,668.2 233.9,668.3 233.2,667.5 232.5,667.9 231.8,665.9 231.1,665.8 230.4,666 229.7,667.5 229,664.9 228.3,663.4 227.6,665.7 226.9,663.3 226.2,662.9 225.5,664.3 224.8,663.4 224.1,663.5 223.4,661.7 222.7,664.1 222,661.7 221.3,664.6 220.6,660.5 219.9,658.1 219.2,660.6 218.5,656.7 217.8,658.8 217.1,658.3 216.4,656.8 215.7,656.2 215,657 214.3,654.6 213.6,655.4 212.9,649.1 212.2,648.9 211.5,650.2 210.8,648.6 210.1,647.8 209.4,648.1 208.7,646.6 208,649.1 207.3,645.8 206.6,643.8 205.9,644.2 205.2,642 204.5,641.4 203.8,645.1 203.1,645 202.4,646 201.7,644.8 201,646.7 200.3,648.2 199.6,646 198.9,644.4 198.2,647.4 197.5,649.8 196.8,648.4 196.1,648.5 195.4,648.1 194.7,649.3 194,650.7 193.3,646.1 192.6,648.7 191.9,648.3 191.2,650 190.5,647.3 189.8,645.1 189.1,649.7 188.4,647.7 187.7,650 187,647.5 186.3,648.8 185.6,647.8 184.9,647.7 184.2,644.6 183.5,645 182.8,644.4 182.1,643.1 181.4,644.5 180.7,643 180,642.8 179.3,642.3 178.6,641.3 177.9,641 177.2,646.1 176.5,645.4 175.8,640.8 175.1,643.5 174.4,646.6 173.7,647.3 173,648.2 172.3,648.8 171.6,648.6 170.9,647 170.2,646.3 169.5,647.1 168.8,645.2 168.1,641.7 167.4,642 166.7,640.4 166,640.7 165.3,639.8 164.6,638.3 163.9,633.9 163.2,638.2 162.5,635.7 161.8,631.7 161.1,633.7 160.4,629.7 159.7,630.1 159,629.6 158.3,627.7 157.6,624.8 156.9,627.9 156.2,626.9 155.5,624.6 154.8,624.1 154.1,626.3 153.4,630.6 152.7,633.6 152,639.3 151.3,644.4 150.6,646.5 149.9,648.9 149.2,656 148.5,658 147.8,666.2 147.1,668.9 146.4,675.3 145.7,678.2 145,670.8 144.3,667.7 143.6,660.6 142.9,655.5 142.2,651.2 141.5,642.4 140.8,641.7 140.1,641.3 139.4,640.6 138.7,639.7 138,640.7 137.3,636.2 136.6,637.2 135.9,635.6 135.2,634.7 134.5,633.6 133.8,636.3 133.1,634.2 132.4,633.7 131.7,634.7 131,634.2 130.3,633.9 129.6,639.3 128.9,639 128.2,640.9 127.5,645.1 126.8,647.3 126.1,647 125.4,648 124.7,650.2 124,653.3 123.3,656.5 122.6,660.3 121.9,664.8 121.2,665.2 120.5,666.1 119.8,672 119.1,672.1 118.4,674.3 117.7,679.8 117,678.6 116.3,679.4 115.6,680.6 114.9,682.4 114.2,686.6 113.5,684.7 112.8,685.3 112.1,688.6 111.4,686.8 110.7,689.1 110,685.1 109.3,687.1 108.6,688.1 107.9,684.4 107.2,683.4 106.5,681.5 105.8,680 105.1,680.2 104.4,676.5 103.7,678.3 103,675.3 102.3,675.6 101.6,679.7 100.9,677.6 100.2,678.2 99.5,673.5 98.8,674.9 98.1,673.9 97.4,674.4 96.7,674.2 96,671.8 95.3,674.2 94.6,673.6 93.9,673.7 93.2,672.8 92.5,675.8 91.8,674.8 91.1,673.5 90.4,674.8 89.7,672.8 89,674.4 88.3,670.1 87.6,673.8 86.9,672.2 86.2,673.2 85.5,671.8 84.8,671.6 84.1,670.8 83.4,671.7 82.7,671.6 82,672.2 81.3,670.5 80.6,669.7 79.9,667.8 79.2,670.8 78.5,668.3 77.8,665.8 77.1,669.8 76.4,670.7 75.7,670.5 75,666.6 74.3,669.2 73.6,666.3 72.9,666.9 72.2,666.2 71.5,670.1 70.8,669.4 70.1,668.1 69.4,666.3 68.7,663.4 68,668.3 67.3,667.6 66.6,666.5 65.9,664.8 65.2,662.8 64.5,666.1 63.8,666.1 63.1,664.5 62.4,665.4 61.7,664.1 61,661.7 60.3,664 59.6,664.2 58.9,660.6 58.2,662.3 57.5,663.1 56.8,664.1 56.1,663.3 55.4,661.1 54.7,662.3 54,663.6" fill="#ff0000" fill-opacity="0.3" stroke="none"/>
<polyline points="54,642.4 54.8,643.7 55.6,647.6 56.4,649.8 57.2,651.3 58,652.4 58.8,652 59.6,650.5 60.4,650.9 61.2,651.1 62,650.1 62.8,650.5 63.6,651.3 64.4,650.9 65.2,649.9 66,649.3 66.8,649.5 67.6,648.9 68.4,650.5 69.2,651.3 70,654.1 70.8,654.3 71.6,650.5 72.4,650.2 73.2,647.8 74,647.3 74.8,647.1 75.6,647.4 76.4,648.5 77.2,648.4 78,649.9 78.8,650.8 79.6,651.2 80.4,652.2 81.2,652.1 82,655.2 82.8,656.1 83.6,659.7 84.4,659.9 85.2,659.3 86,658.2 86.8,660.2 87.6,657 88.4,655.5 89.2,654 90,654.9 90.8,655.1 91.6,657.2 92.4,657.2 93.2,659.4 94,660.5 94.8,662.7 95.6,662.9 96.4,663.7 97.2,665.8 98,665.2 98.8,664.7 99.6,665.1 100.4,662.6 101.2,663.6 102,660.7 102.8,657.7 103.6,656.4 104.4,656.4 105.2,656.1 106,657.3 106.8,660 107.6,663.2 108.4,665.5 109.2,667.8 110,670.7 110.8,674 111.6,678 112.4,680.8 113.2,679.3 114,677.1 114.8,672.8 115.6,669.8 116.4,668 117.2,667.3 118,662.1 118.8,661.4 119.6,658.4 120.4,654.9 121.2,653.2 122,648.8 122.8,644.3 123.6,639.2 124.4,636.5 125.2,632.4 126,629.3 126.8,626.6 127.6,623.4 128.4,621.7 129.2,620 130,619.5 130.8,618.5 131.6,617.2 132.4,620.2 133.2,620.1 134,617.6 134.8,616.1 135.6,615.7 136.4,614.1 137.2,617.8 138,619.1 138.8,621.9 139.6,625.3 140.4,627.9 141.2,632.9 142,637.2 142.8,640.7 143.6,648.2 144.4,653.3 145.2,657.6 146,654.2 146.8,650.2 147.6,646.6 148.4,644.9 149.2,645 150,644.9 150.8,640.1 151.6,632.4 152.4,623.9 153.2,620.5 154,615.3 154.8,611.7 155.6,610.5 156.4,608.8 157.2,608.1 158,609 158.8,610.1 159.6,610.1 160.4,613.9 161.2,617.1 162,619.1 162.8,620.1 163.6,622.3 164.4,624 165.2,624.4 166,624 166.8,625.7 167.6,626.1 168.4,627.1 169.2,629 170,628.9 170.8,630.8 171.6,631.7 172.4,631.1 173.2,632.9 174,631.1 174.8,627.8 175.6,628.5 176.4,627.3 177.2,627.5 178,625.7 178.8,624.3 179.6,623.5 180.4,622.7 181.2,621.2 182,619.9 182.8,620.6 183.6,622.6 184.4,622.9 185.2,625.3 186,627 186.8,628.7 187.6,631.3 188.4,631.6 189.2,633.2 190,633.7 190.8,635.3 191.6,635.2 192.4,635.3 193.2,634.4 194,631.9 194.8,632.3 195.6,630.6 196.4,629.9 197.2,629.3 198,629.2 198.8,628.5 199.6,628.2 200.4,625.8 201.2,624.7 202,625 202.8,626.4 203.6,627.5 204.4,626.5 205.2,626 206,627.7 206.8,628.8 207.6,629.4 208.4,629.3 209.2,628.8 210,631.3 210.8,633.6 211.6,633.3 212.4,631.8 213.2,633.7 214,633.1 214.8,635.8 215.6,634.2 216.4,632.6 217.2,633.7 218,632.4 218.8,633 219.6,633.6 220.4,633.9 221.2,636.3 222,636.4 222.8,639.6 223.6,639.8 224.4,639.6 225.2,640.4 226,644.8 226.8,645.9 227.6,645 228.4,647.8 229.2,647.6 230,647.8 230.8,648.6 231.6,649.6 232.4,650.6 233.2,648.5 234,646.2 234.8,648.6 235.6,647 236.4,645 237.2,646.4 238,647.4 238.8,649.5 239.6,651.2 240.4,652.2 241.2,652.9 242,654.5 242.8,657.5 243.6,658.9 244.4,662 245.2,660.1 246,660.6 246.8,659.6 247.6,658.7 248.4,660 249.2,658.6 250,657.5 250.8,658.1 251.6,659.1 252.4,657.7 253.2,659.6 254,659.6 254.8,659.2 255.6,661.1 256.4,662 257.2,661.3 258,661.5 258.8,663.8 259.6,664.1 260.4,662.6 261.2,663.7 262,664.6 262.8,665 263.6,665.1 264.4,667.9 265.2,668.4 266,669.3 266.8,669.8 267.6,667.2 268.4,666.3 269.2,665.5 270,665.2 270.8,666.6 271.6,668.4 272.4,669.2 273.2,671.3 274,671.3 274.8,673.1 275.6,673.5 276.4,675.6 277.2,676.4 278,679 278.8,679.6 279.2,679.5" fill="none" stroke="#ff0000" stroke-width="2.0" stroke-linejoin="round" stroke-linecap="butt"/>
<line x1="224.5" y1="554.2" x2="240.2" y2="554.2" stroke="#0000ff" stroke-width="2.4"/>
<text x="242" y="557.8" font-size="9" text-anchor="start" fill="#111">Toward</text>
<line x1="224.5" y1="565.3" x2="240.2" y2="565.3" stroke="#ff0000" stroke-width="2.4"/>
<text x="242" y="568.9" font-size="9" text-anchor="start" fill="#111">Away</text>
<line x1="150" y1="700.1" x2="179" y2="700.1" stroke="#000" stroke-width="2"/>
<text x="393.2" y="530.6" font-size="19.3" text-anchor="start" fill="#000" font-weight="bold">f</text>
<text x="522.9" y="536.5" font-size="18.8" text-anchor="middle" fill="#000">LTM</text>
<line x1="415.6" y1="543.2" x2="415.6" y2="709.3" stroke="#a0a0a0" stroke-width="1"/>
<line x1="415.6" y1="709.3" x2="641.2" y2="709.3" stroke="#a0a0a0" stroke-width="1"/>
<line x1="411" y1="548" x2="415.6" y2="548" stroke="#a0a0a0" stroke-width="1"/>
<text x="407.5" y="552.2" font-size="10.6" text-anchor="end" fill="#111">2</text>
<line x1="411" y1="601.8" x2="415.6" y2="601.8" stroke="#a0a0a0" stroke-width="1"/>
<text x="407.5" y="606" font-size="10.6" text-anchor="end" fill="#111">1.5</text>
<line x1="411" y1="655.5" x2="415.6" y2="655.5" stroke="#a0a0a0" stroke-width="1"/>
<text x="407.5" y="659.7" font-size="10.6" text-anchor="end" fill="#111">1</text>
<line x1="411" y1="709.3" x2="415.6" y2="709.3" stroke="#a0a0a0" stroke-width="1"/>
<text x="407.5" y="713.5" font-size="10.6" text-anchor="end" fill="#111">0.5</text>
<line x1="415.6" y1="709.3" x2="415.6" y2="713.8" stroke="#a0a0a0" stroke-width="1"/>
<text x="415.6" y="727.6" font-size="10.6" text-anchor="middle" fill="#111">-200</text>
<line x1="453.2" y1="709.3" x2="453.2" y2="713.8" stroke="#a0a0a0" stroke-width="1"/>
<text x="453.2" y="727.6" font-size="10.6" text-anchor="middle" fill="#111">0</text>
<line x1="490.8" y1="709.3" x2="490.8" y2="713.8" stroke="#a0a0a0" stroke-width="1"/>
<text x="490.8" y="727.6" font-size="10.6" text-anchor="middle" fill="#111">200</text>
<line x1="528.4" y1="709.3" x2="528.4" y2="713.8" stroke="#a0a0a0" stroke-width="1"/>
<text x="528.4" y="727.6" font-size="10.6" text-anchor="middle" fill="#111">400</text>
<line x1="566" y1="709.3" x2="566" y2="713.8" stroke="#a0a0a0" stroke-width="1"/>
<text x="566" y="727.6" font-size="10.6" text-anchor="middle" fill="#111">600</text>
<line x1="603.6" y1="709.3" x2="603.6" y2="713.8" stroke="#a0a0a0" stroke-width="1"/>
<text x="603.6" y="727.6" font-size="10.6" text-anchor="middle" fill="#111">800</text>
<line x1="641.2" y1="709.3" x2="641.2" y2="713.8" stroke="#a0a0a0" stroke-width="1"/>
<text x="641.2" y="727.6" font-size="10.6" text-anchor="middle" fill="#111">1000</text>
<text x="528.4" y="740.8" font-size="11.4" text-anchor="middle" fill="#111">Time relative to cue onset</text>
<text transform="translate(389.4,623.8) rotate(-90)" font-size="11.4" text-anchor="middle" fill="#111">Rate (Hz)</text>
<polygon points="415.6,634.7 416.3,633.9 417,632.3 417.7,629.8 418.4,628.3 419.1,629.7 419.8,629 420.5,628.2 421.2,628.1 421.9,626.2 422.6,629.7 423.3,626.1 424,626.2 424.7,627.3 425.4,624.3 426.1,627.3 426.8,628.2 427.5,627.1 428.2,626.6 428.9,627.9 429.6,627.2 430.3,632 431,631.1 431.7,630.6 432.4,631.1 433.1,634 433.8,635.8 434.5,633.1 435.2,634.6 435.9,634.4 436.6,638.5 437.3,639.4 438,642.9 438.7,640.9 439.4,641.2 440.1,641.9 440.8,644.8 441.5,642.9 442.2,646.8 442.9,647.3 443.6,647.2 444.3,647.8 445,651.6 445.7,652.2 446.4,648.9 447.1,649.7 447.8,650.9 448.5,647.4 449.2,647.1 449.9,645.6 450.6,646.6 451.3,646.4 452,645.5 452.7,644.5 453.4,643 454.1,642.9 454.8,643.2 455.5,645 456.2,643.5 456.9,643.7 457.6,646.3 458.3,646.9 459,645.7 459.7,646.5 460.4,648.9 461.1,649.2 461.8,648.2 462.5,650.2 463.2,650.7 463.9,652.7 464.6,650.9 465.3,653.7 466,653.7 466.7,652.6 467.4,655.9 468.1,656.2 468.8,653.5 469.5,657.5 470.2,653.5 470.9,653.6 471.6,654.5 472.3,656.1 473,655.9 473.7,655.1 474.4,656.4 475.1,654.4 475.8,654.9 476.5,655.7 477.2,650.9 477.9,646.1 478.6,647.7 479.3,646.2 480,646.8 480.7,645.9 481.4,643.1 482.1,642.2 482.8,642.5 483.5,641.4 484.2,637.6 484.9,641.2 485.6,638.5 486.3,636.4 487,634.7 487.7,631 488.4,630.4 489.1,630.1 489.8,628.2 490.5,624.4 491.2,620 491.9,616.1 492.6,615.7 493.3,611.5 494,606.6 494.7,600.9 495.4,599.1 496.1,594.9 496.8,595.8 497.5,597.2 498.2,598.4 498.9,601.8 499.6,608.3 500.3,609 501,607.9 501.7,611.7 502.4,612.8 503.1,614.8 503.8,620.6 504.5,627.8 505.2,630.6 505.9,632.1 506.6,635.3 507.3,640 508,644.9 508.7,634.1 509.4,624.5 510.1,620.5 510.8,609.6 511.5,602 512.2,591.2 512.9,585.2 513.6,577.3 514.3,573.6 515,570.1 515.7,564.1 516.4,556.9 517.1,553.4 517.8,546.1 518.5,542.4 519.2,549 519.9,554.2 520.6,557 521.3,557.9 522,564.4 522.7,568 523.4,569.9 524.1,570.8 524.8,578 525.5,580.5 526.2,582 526.9,581.2 527.6,583.9 528.3,589.9 529,592.2 529.7,594 530.4,595.3 531.1,596.9 531.8,595.3 532.5,595.1 533.2,594.1 533.9,595.2 534.6,594.2 535.3,595.7 536,595 536.7,592.7 537.4,595.6 538.1,591.5 538.8,593.2 539.5,593.9 540.2,594.2 540.9,590.5 541.6,595.6 542.3,597.2 543,598 543.7,593.8 544.4,596.6 545.1,598.4 545.8,599.1 546.5,602.3 547.2,600.7 547.9,604 548.6,603.9 549.3,601.5 550,602.3 550.7,603.5 551.4,604.9 552.1,606.5 552.8,605.3 553.5,606.8 554.2,603.5 554.9,601.8 555.6,606 556.3,607.7 557,606.9 557.7,606.3 558.4,608.7 559.1,611 559.8,608.3 560.5,607.3 561.2,607.5 561.9,611.5 562.6,609.1 563.3,610 564,611.1 564.7,610.9 565.4,608.3 566.1,610.9 566.8,611.1 567.5,610.8 568.2,611.5 568.9,609.4 569.6,610.4 570.3,610.6 571,613 571.7,611.9 572.4,613.8 573.1,612.5 573.8,614.4 574.5,614.9 575.2,616 575.9,617.1 576.6,617.3 577.3,617.7 578,616.1 578.7,621 579.4,619.6 580.1,620.6 580.8,620.7 581.5,623.7 582.2,622.1 582.9,624.6 583.6,626.5 584.3,627.9 585,628 585.7,627.5 586.4,625.8 587.1,629.9 587.8,630.7 588.5,630.9 589.2,631.4 589.9,630.9 590.6,630.7 591.3,633.5 592,634.2 592.7,631.6 593.4,634.6 594.1,634.5 594.8,635.8 595.5,635.6 596.2,637.3 596.9,637.8 597.6,637.8 598.3,635.3 599,638.4 599.7,637.6 600.4,636.2 601.1,638.7 601.8,636.4 602.5,639.6 603.2,641 603.9,638.3 604.6,640.2 605.3,639.9 606,640 606.7,637.6 607.4,640.3 608.1,640.1 608.8,641 609.5,640.3 610.2,641.9 610.9,641 611.6,641.8 612.3,642.8 613,641.5 613.7,642.6 614.4,641.8 615.1,642.2 615.8,641 616.5,643 617.2,643.9 617.9,642.6 618.6,644 619.3,643.7 620,642 620.7,644.4 621.4,646.1 622.1,643.8 622.8,642.3 623.5,645.3 624.2,645 624.9,648.6 625.6,646.5 626.3,646 627,644.7 627.7,645.2 628.4,643.6 629.1,642.6 629.8,643.1 630.5,641.9 631.2,644 631.9,640.3 632.6,641 633.3,639.6 634,638.4 634.7,641.7 635.4,637.5 636.1,642.3 636.8,639.4 637.5,642 638.2,645.3 638.9,640 639.6,641.4 640.3,645.7 640.5,644.6 640.5,681.1 640.3,681.1 639.6,681.5 638.9,679.9 638.2,679.1 637.5,679.5 636.8,677.7 636.1,679.7 635.4,679.4 634.7,680.8 634,681.4 633.3,681.8 632.6,683 631.9,683 631.2,682.1 630.5,683.7 629.8,682.2 629.1,687.6 628.4,685 627.7,684.5 627,684.6 626.3,688 625.6,686.9 624.9,686.6 624.2,684.1 623.5,686.2 622.8,683.9 622.1,684.8 621.4,683.7 620.7,686.8 620,680.4 619.3,682.5 618.6,682.9 617.9,683.2 617.2,680.7 616.5,680.4 615.8,680.4 615.1,680.3 614.4,678.7 613.7,680.6 613,679 612.3,675.6 611.6,675.6 610.9,678.3 610.2,677.2 609.5,672.7 608.8,674.5 608.1,677.1 607.4,674.9 606.7,675.1 606,672.8 605.3,670.9 604.6,672.3 603.9,673.1 603.2,673.9 602.5,675.1 601.8,674.7 601.1,673.8 600.4,673.2 599.7,670 599,672.1 598.3,673.7 597.6,671.3 596.9,671.7 596.2,672.2 595.5,668.9 594.8,668.6 594.1,673.7 593.4,672.3 592.7,669.9 592,667.5 591.3,670.4 590.6,670 589.9,668.5 589.2,668.1 588.5,664.5 587.8,662.2 587.1,661.5 586.4,659.9 585.7,659.3 585,660.3 584.3,655.9 583.6,656.2 582.9,655.1 582.2,655.8 581.5,653.3 580.8,650.6 580.1,651.2 579.4,651.5 578.7,650.4 578,649.8 577.3,649.3 576.6,645.2 575.9,647.3 575.2,643.6 574.5,648.1 573.8,646.6 573.1,645.4 572.4,643.4 571.7,644.7 571,645.7 570.3,644.3 569.6,642.9 568.9,640.7 568.2,641.1 567.5,640 566.8,641.8 566.1,640.1 565.4,638 564.7,641.5 564,640.1 563.3,640 562.6,639.7 561.9,639.8 561.2,640.3 560.5,639.9 559.8,641.7 559.1,639.6 558.4,637.8 557.7,639.2 557,638.1 556.3,639.2 555.6,641.2 554.9,640.8 554.2,637 553.5,641.3 552.8,640.9 552.1,642.3 551.4,645 550.7,644.2 550,644.2 549.3,641.6 548.6,640.6 547.9,637.4 547.2,636 546.5,636.9 545.8,633.9 545.1,632.2 544.4,632.1 543.7,631 543,627.2 542.3,626.2 541.6,625 540.9,623.4 540.2,627.8 539.5,627.8 538.8,627.2 538.1,627 537.4,626.5 536.7,625.3 536,625 535.3,625.8 534.6,626 533.9,626.7 533.2,626.2 532.5,624.2 531.8,621.1 531.1,622.9 530.4,620.2 529.7,622.7 529,619.6 528.3,617.8 527.6,613.7 526.9,614.4 526.2,611.8 525.5,608.8 524.8,609.2 524.1,610.1 523.4,605.7 522.7,604.4 522,603.4 521.3,600.3 520.6,599.3 519.9,596.2 519.2,597 518.5,592 517.8,594 517.1,603.1 516.4,604.2 515.7,612 515,618.7 514.3,625.7 513.6,632.4 512.9,637.2 512.2,642.5 511.5,645.1 510.8,652.7 510.1,656.2 509.4,659.9 508.7,665.2 508,674.4 507.3,668.2 506.6,664.6 505.9,664.9 505.2,661.2 504.5,658.7 503.8,653.8 503.1,651 502.4,651.4 501.7,644.7 501,641.3 500.3,639 499.6,637.2 498.9,634.5 498.2,629.8 497.5,629.3 496.8,624.3 496.1,628.3 495.4,631.4 494.7,633.8 494,633.8 493.3,636.3 492.6,638.1 491.9,639.8 491.2,642.6 490.5,645.7 489.8,647 489.1,650.9 488.4,653.4 487.7,658.1 487,661.2 486.3,667.5 485.6,669.4 484.9,673 484.2,677.2 483.5,673.6 482.8,675.8 482.1,676.7 481.4,679.6 480.7,679.4 480,681.2 479.3,681.8 478.6,682 477.9,685.5 477.2,684 476.5,683.4 475.8,686.5 475.1,687.8 474.4,691 473.7,688.2 473,688.3 472.3,690.2 471.6,691.4 470.9,689.9 470.2,690.8 469.5,691 468.8,687.3 468.1,687.7 467.4,687.6 466.7,686.6 466,685.4 465.3,684.4 464.6,683.4 463.9,683.9 463.2,684.2 462.5,681.5 461.8,682.2 461.1,680.5 460.4,679.9 459.7,680.2 459,679.2 458.3,679.2 457.6,678.2 456.9,676.8 456.2,678.2 455.5,678.6 454.8,677.5 454.1,677.4 453.4,678.3 452.7,678.1 452,682.1 451.3,679.7 450.6,681.3 449.9,684.6 449.2,681.5 448.5,680.4 447.8,682.3 447.1,683.2 446.4,679.6 445.7,682.7 445,683.4 444.3,682.2 443.6,681.3 442.9,680.5 442.2,681.2 441.5,676.1 440.8,679 440.1,676.9 439.4,675.2 438.7,672.4 438,674.2 437.3,670 436.6,669.2 435.9,665 435.2,665.2 434.5,664.6 433.8,666.8 433.1,663.8 432.4,663.2 431.7,664.1 431,663.7 430.3,662 429.6,661.2 428.9,663.4 428.2,661.4 427.5,659.4 426.8,657 426.1,657.1 425.4,659.1 424.7,660 424,660.1 423.3,660.7 422.6,662.3 421.9,661.8 421.2,666 420.5,665.4 419.8,664 419.1,663.7 418.4,666.8 417.7,665.1 417,663.8 416.3,665.4 415.6,665.2" fill="#0000ff" fill-opacity="0.3" stroke="none"/>
<polyline points="415.6,649.5 416.4,648 417.2,650.3 418,651 418.8,650.3 419.6,649.2 420.4,650.2 421.2,650.6 422,650 422.8,647.8 423.6,646.9 424.4,645.9 425.2,645.2 426,643.3 426.8,642.5 427.6,642.5 428.4,642.8 429.2,642.9 430,642.8 430.8,644.4 431.6,644.4 432.4,645.3 433.2,647.1 434,647.6 434.8,648.6 435.6,648.8 436.4,651.9 437.2,652.9 438,654 438.8,656 439.6,657.3 440.4,658.6 441.2,661.8 442,662.1 442.8,664.3 443.6,666.2 444.4,665.8 445.2,666.4 446,664.2 446.8,663.5 447.6,660.7 448.4,659.1 449.2,660.4 450,659.8 450.8,658.2 451.6,659.1 452.4,659 453.2,661.1 454,660.7 454.8,659.2 455.6,659.4 456.4,659.5 457.2,660.6 458,661.2 458.8,662 459.6,661.8 460.4,660.9 461.2,661.9 462,664.2 462.8,664.5 463.6,663.8 464.4,664.6 465.2,666.2 466,667.7 466.8,668.4 467.6,671.6 468.4,672 469.2,672.8 470,672 470.8,674.8 471.6,674.8 472.4,671.3 473.2,672.3 474,670.5 474.8,667.4 475.6,665.2 476.4,665.3 477.2,663.3 478,661.5 478.8,661.3 479.6,661.5 480.4,663 481.2,662.1 482,661.6 482.8,658.5 483.6,657.2 484.4,655.9 485.2,656.1 486,652.1 486.8,650.4 487.6,649.9 488.4,648.1 489.2,645.9 490,636.9 490.8,632.2 491.6,627.9 492.4,622.3 493.2,619.1 494,617.2 494.8,615.1 495.6,612.1 496.4,610.2 497.2,610.3 498,613.4 498.8,614.6 499.6,615.5 500.4,617.9 501.2,623 502,627.1 502.8,631.9 503.6,636 504.4,642.2 505.2,647.3 506,651.4 506.8,655.9 507.6,655 508.4,653.1 509.2,648.8 510,644.4 510.8,637.6 511.6,627.9 512.4,617.3 513.2,605.9 514,595.2 514.8,585.3 515.6,574.9 516.4,569 517.2,565.3 518,563 518.8,562.9 519.6,566.3 520.4,568.5 521.2,569.8 522,575.1 522.8,580.3 523.6,583.8 524.4,589.9 525.2,595.2 526,597.3 526.8,600.6 527.6,603.1 528.4,606.2 529.2,607.3 530,608.6 530.8,610.7 531.6,612.5 532.4,613 533.2,612.8 534,613 534.8,613.8 535.6,613.8 536.4,613.3 537.2,612.3 538,611.1 538.8,610.1 539.6,609.9 540.4,610.5 541.2,609.6 542,607.7 542.8,609.1 543.6,609.8 544.4,610.9 545.2,611.8 546,613.2 546.8,614.5 547.6,616.1 548.4,620.4 549.2,623.7 550,625 550.8,628.3 551.6,630.6 552.4,632.3 553.2,629.5 554,627.6 554.8,625.3 555.6,621.8 556.4,623.7 557.2,623.8 558,622.6 558.8,624.9 559.6,626 560.4,627.4 561.2,628.8 562,629.4 562.8,629.3 563.6,629.3 564.4,629.4 565.2,631.1 566,630.5 566.8,628.2 567.6,627.7 568.4,628.2 569.2,628.1 570,626.8 570.8,626.6 571.6,628.7 572.4,628.5 573.2,626.6 574,626.5 574.8,627.8 575.6,629.3 576.4,630.3 577.2,630.4 578,630.5 578.8,632.9 579.6,634.4 580.4,634.9 581.2,636.1 582,638.4 582.8,639.5 583.6,640.3 584.4,642.6 585.2,643.5 586,646.2 586.8,647.1 587.6,647.2 588.4,649.3 589.2,651 590,649.1 590.8,650.1 591.6,650.9 592.4,648.4 593.2,648.4 594,647.4 594.8,648.8 595.6,648.2 596.4,649.7 597.2,651.8 598,653.6 598.8,654.9 599.6,656.1 600.4,657.6 601.2,658.4 602,659.1 602.8,658.8 603.6,660 604.4,662.5 605.2,661.9 606,660.3 606.8,659.9 607.6,659.7 608.4,660 609.2,662.5 610,662.2 610.8,663.7 611.6,666.1 612.4,663.9 613.2,663.5 614,660.9 614.8,660.2 615.6,659.4 616.4,657.9 617.2,658.6 618,659.6 618.8,661.4 619.6,662.3 620.4,664.2 621.2,665.4 622,667.3 622.8,666.9 623.6,668.7 624.4,668.7 625.2,669.5 626,670.6 626.8,667.8 627.6,664.5 628.4,663.8 629.2,660.1 630,660.2 630.8,659.2 631.6,658.4 632.4,659.3 633.2,659.4 634,660.7 634.8,659.3 635.6,660.6 636.4,660.3 637.2,659 638,659.2 638.8,661.1 639.6,660.7 640.4,661.1 640.5,660.9" fill="none" stroke="#0000ff" stroke-width="2.0" stroke-linejoin="round" stroke-linecap="butt"/>
<polygon points="415.6,630.2 416.3,630.5 417,629.1 417.7,627.7 418.4,628.9 419.1,631.2 419.8,630.3 420.5,627.4 421.2,626.8 421.9,626.8 422.6,627.2 423.3,625.1 424,623.2 424.7,622.7 425.4,624.4 426.1,625.7 426.8,622.2 427.5,621 428.2,625.6 428.9,625.6 429.6,626.8 430.3,629.1 431,628.3 431.7,627 432.4,627.1 433.1,630.4 433.8,630.1 434.5,632.7 435.2,631.7 435.9,633.6 436.6,633.1 437.3,635.4 438,636.5 438.7,638.9 439.4,640.7 440.1,639.5 440.8,639.6 441.5,644.2 442.2,643.2 442.9,644.2 443.6,645.3 444.3,647.3 445,647.6 445.7,646.3 446.4,645.5 447.1,642.5 447.8,641.9 448.5,641.9 449.2,641.5 449.9,640.7 450.6,640.3 451.3,639.1 452,637.5 452.7,635.4 453.4,637.8 454.1,636.8 454.8,634.2 455.5,635.1 456.2,634.9 456.9,635.2 457.6,633.5 458.3,635.3 459,637.4 459.7,641.3 460.4,639.1 461.1,640.5 461.8,640.5 462.5,642.4 463.2,644.3 463.9,642 464.6,642 465.3,647.7 466,648.2 466.7,648.4 467.4,651.5 468.1,652.2 468.8,648.7 469.5,651.6 470.2,653.9 470.9,652.1 471.6,653 472.3,655.1 473,653.9 473.7,653 474.4,652.6 475.1,650.1 475.8,650.5 476.5,645.9 477.2,647.2 477.9,642.2 478.6,642.1 479.3,638.4 480,638.1 480.7,638.2 481.4,636.6 482.1,634.8 482.8,631 483.5,629.2 484.2,627.5 484.9,626.1 485.6,623.9 486.3,625 487,623.4 487.7,623.5 488.4,621.9 489.1,621.1 489.8,618.4 490.5,616 491.2,611.7 491.9,609.7 492.6,606.9 493.3,604.8 494,599.2 494.7,601.6 495.4,594.3 496.1,592.6 496.8,588.8 497.5,587.1 498.2,593 498.9,598.3 499.6,596.5 500.3,603.3 501,604.4 501.7,607.9 502.4,611.7 503.1,612.1 503.8,617.7 504.5,620 505.2,623.1 505.9,628.6 506.6,635.5 507.3,634.6 508,637.6 508.7,631 509.4,622.9 510.1,617.1 510.8,611.6 511.5,602.8 512.2,596.3 512.9,589.3 513.6,587.8 514.3,577.8 515,575.6 515.7,572.5 516.4,568.7 517.1,563.5 517.8,560.1 518.5,560.9 519.2,561.9 519.9,560.7 520.6,561.7 521.3,566.6 522,569.8 522.7,570.1 523.4,572.3 524.1,575.2 524.8,582 525.5,582.1 526.2,583.7 526.9,587.5 527.6,591.6 528.3,592.1 529,590.8 529.7,594.6 530.4,596.5 531.1,598.7 531.8,599.9 532.5,603.1 533.2,604.1 533.9,606.1 534.6,605.9 535.3,604 536,603.7 536.7,605.7 537.4,607.6 538.1,607.6 538.8,606.6 539.5,602.5 540.2,606.2 540.9,606.4 541.6,607 542.3,604.8 543,602.8 543.7,600.1 544.4,601.6 545.1,596.2 545.8,591.8 546.5,588.9 547.2,586 547.9,585.1 548.6,587.2 549.3,590.8 550,595.2 550.7,597.9 551.4,600.2 552.1,604.3 552.8,605.7 553.5,606.4 554.2,606 554.9,608.2 555.6,609.9 556.3,611.4 557,612.9 557.7,611.4 558.4,611.7 559.1,614.7 559.8,615.9 560.5,614.4 561.2,616.2 561.9,618.3 562.6,617.5 563.3,616.8 564,614.5 564.7,619.1 565.4,618.7 566.1,618 566.8,617.2 567.5,616.3 568.2,618 568.9,618.4 569.6,620 570.3,617.4 571,620.9 571.7,619.7 572.4,621.6 573.1,619.6 573.8,622 574.5,623.9 575.2,623 575.9,621.5 576.6,623.7 577.3,625.5 578,623.6 578.7,624.3 579.4,627.2 580.1,626.6 580.8,629.2 581.5,627.4 582.2,627.1 582.9,629.5 583.6,633.2 584.3,631 585,632.6 585.7,633.6 586.4,632.9 587.1,636.2 587.8,635.9 588.5,636.6 589.2,634.3 589.9,634.5 590.6,633.9 591.3,637.9 592,638.8 592.7,640.7 593.4,642.2 594.1,640.4 594.8,640.8 595.5,642.5 596.2,644.3 596.9,641.9 597.6,644 598.3,643.5 599,642.9 599.7,643.1 600.4,639.7 601.1,638.1 601.8,639.2 602.5,637.1 603.2,635.5 603.9,634.5 604.6,634 605.3,631.8 606,632 606.7,630.5 607.4,630.7 608.1,629.2 608.8,627.3 609.5,627.4 610.2,629.2 610.9,630.3 611.6,636.2 612.3,634.1 613,636.5 613.7,639 614.4,636.9 615.1,639 615.8,641.2 616.5,642 617.2,642.6 617.9,644.5 618.6,647.7 619.3,647.8 620,647.4 620.7,647.9 621.4,646.5 622.1,650.2 622.8,650.6 623.5,649.3 624.2,651.6 624.9,651.9 625.6,652 626.3,651.5 627,651.9 627.7,651.7 628.4,653.6 629.1,653.6 629.8,653.5 630.5,652.8 631.2,652.7 631.9,655.6 632.6,650.8 633.3,654.5 634,653.7 634.7,653.1 635.4,652.6 636.1,653.1 636.8,652 637.5,652.1 638.2,653.9 638.9,652.5 639.6,656.1 640.3,656.5 640.5,650.7 640.5,683.2 640.3,686.3 639.6,686 638.9,686.6 638.2,687.1 637.5,687.2 636.8,688.8 636.1,685.8 635.4,684.4 634.7,686.4 634,684 633.3,685.6 632.6,686.1 631.9,682.9 631.2,687.9 630.5,686.4 629.8,683.6 629.1,682.3 628.4,684.7 627.7,685.8 627,681.9 626.3,682.5 625.6,683.3 624.9,679.3 624.2,677.6 623.5,683.6 622.8,680.9 622.1,680.8 621.4,682 620.7,678.1 620,680.2 619.3,680 618.6,675.7 617.9,677 617.2,677.6 616.5,676.1 615.8,676.3 615.1,675 614.4,673 613.7,672.1 613,672.6 612.3,672.1 611.6,673.9 610.9,673.1 610.2,669.8 609.5,674.9 608.8,674.5 608.1,672.6 607.4,674.8 606.7,676.2 606,679.5 605.3,679.5 604.6,679.1 603.9,682.3 603.2,683.5 602.5,682 601.8,681.2 601.1,677.8 600.4,677.3 599.7,679.1 599,677.5 598.3,674.8 597.6,677 596.9,675.1 596.2,674.7 595.5,675 594.8,673.6 594.1,673.1 593.4,669.1 592.7,671.2 592,670.1 591.3,671.7 590.6,669.7 589.9,667.9 589.2,666.6 588.5,663.1 587.8,664.3 587.1,664.5 586.4,664.9 585.7,664.6 585,661.9 584.3,660.1 583.6,660.8 582.9,659.8 582.2,660.9 581.5,659.6 580.8,656.1 580.1,656.6 579.4,658.6 578.7,656.4 578,655.6 577.3,656.2 576.6,656.2 575.9,655.3 575.2,655.4 574.5,653.5 573.8,656.2 573.1,655.4 572.4,655.6 571.7,654.5 571,653.9 570.3,654.2 569.6,652.8 568.9,652.9 568.2,654.7 567.5,651 566.8,649.8 566.1,650.1 565.4,651.9 564.7,652.5 564,648.1 563.3,650 562.6,649.6 561.9,650.3 561.2,647.8 560.5,651.5 559.8,650 559.1,650.7 558.4,647.9 557.7,647.2 557,647.3 556.3,642.5 555.6,643.7 554.9,640.5 554.2,639.2 553.5,639.3 552.8,636.3 552.1,635.5 551.4,633.2 550.7,635.1 550,634 549.3,636.4 548.6,634.9 547.9,633.5 547.2,634.8 546.5,634.5 545.8,631.5 545.1,633.9 544.4,634.6 543.7,634.8 543,633 542.3,635.9 541.6,633 540.9,637.4 540.2,633.6 539.5,634.6 538.8,636.8 538.1,635.5 537.4,636.6 536.7,638.3 536,636.2 535.3,638.6 534.6,637.8 533.9,633.6 533.2,631 532.5,629.6 531.8,629.1 531.1,628.7 530.4,626 529.7,627.1 529,623.1 528.3,619.4 527.6,620.1 526.9,618.7 526.2,613.9 525.5,615 524.8,612.7 524.1,611 523.4,609.6 522.7,605.6 522,607 521.3,604.6 520.6,603.4 519.9,601.2 519.2,600 518.5,599.3 517.8,602.9 517.1,601 516.4,601.3 515.7,603.3 515,605.9 514.3,608.8 513.6,611.7 512.9,619.9 512.2,624 511.5,631 510.8,634.6 510.1,641.2 509.4,650.9 508.7,651.7 508,658.6 507.3,659.6 506.6,655.6 505.9,653.3 505.2,652 504.5,646.3 503.8,646.2 503.1,642.3 502.4,636.1 501.7,638.1 501,635.2 500.3,629.4 499.6,626.8 498.9,629.7 498.2,621.6 497.5,619.7 496.8,614.6 496.1,619.1 495.4,620.3 494.7,624.7 494,623.1 493.3,625.7 492.6,629.2 491.9,631.4 491.2,634 490.5,636.2 489.8,639 489.1,641.2 488.4,642.5 487.7,647.4 487,651.3 486.3,652.7 485.6,655.6 484.9,659.5 484.2,661.2 483.5,660.8 482.8,664.2 482.1,662.7 481.4,665.5 480.7,669.2 480,670.4 479.3,669.7 478.6,675 477.9,674.4 477.2,678.1 476.5,679 475.8,680.6 475.1,682.4 474.4,683.7 473.7,683.8 473,686.3 472.3,684.5 471.6,685.4 470.9,686.7 470.2,686.3 469.5,684.7 468.8,687.3 468.1,685.6 467.4,682.3 466.7,680.9 466,679.1 465.3,680.4 464.6,680.1 463.9,681 463.2,678.9 462.5,679.8 461.8,678.7 461.1,677 460.4,670.9 459.7,672 459,670.8 458.3,673.2 457.6,672.5 456.9,671.3 456.2,669.8 455.5,670 454.8,670.6 454.1,672.3 453.4,671.4 452.7,671.4 452,673 451.3,676.1 450.6,673.7 449.9,674 449.2,674.5 448.5,675.6 447.8,676.3 447.1,675.4 446.4,676.5 445.7,676.3 445,677.2 444.3,677.4 443.6,675.9 442.9,675.7 442.2,675 441.5,675.8 440.8,672.3 440.1,674.2 439.4,670.3 438.7,669.8 438,671.5 437.3,669.8 436.6,667.3 435.9,664.1 435.2,663.1 434.5,664.2 433.8,665.9 433.1,662.3 432.4,661.7 431.7,663.4 431,657.1 430.3,661.5 429.6,661.4 428.9,659.3 428.2,658.2 427.5,657.1 426.8,654.8 426.1,657 425.4,660.4 424.7,659.3 424,655.7 423.3,657.4 422.6,656.1 421.9,660.3 421.2,660 420.5,663.1 419.8,662.4 419.1,662.6 418.4,662.6 417.7,662.6 417,663.3 416.3,663.7 415.6,661.5" fill="#ff0000" fill-opacity="0.3" stroke="none"/>
<polyline points="415.6,647.9 416.4,650.6 417.2,651.5 418,653.7 418.8,654 419.6,653 420.4,650 421.2,648.5 422,648.4 422.8,646.5 423.6,644 424.4,643.1 425.2,641.4 426,639.7 426.8,642.4 427.6,642 428.4,641.9 429.2,642.9 430,644.9 430.8,644.5 431.6,644.1 432.4,645.8 433.2,646.9 434,647.6 434.8,649.4 435.6,650.7 436.4,651.6 437.2,652.6 438,654.4 438.8,654 439.6,656.5 440.4,657.2 441.2,657.9 442,657.4 442.8,660.6 443.6,659.3 444.4,660.5 445.2,661.9 446,659.3 446.8,657.2 447.6,654.2 448.4,653.7 449.2,653.3 450,653.9 450.8,653.6 451.6,654.1 452.4,654.1 453.2,652.8 454,652.6 454.8,654.1 455.6,652 456.4,653.6 457.2,654.4 458,656.2 458.8,656 459.6,657.8 460.4,658.5 461.2,658.3 462,658.7 462.8,658.1 463.6,658.7 464.4,659.7 465.2,662.3 466,663.4 466.8,664.1 467.6,666.6 468.4,668.4 469.2,669.3 470,672.1 470.8,673 471.6,674.2 472.4,674.2 473.2,674.7 474,672.8 474.8,668.5 475.6,666.9 476.4,664.1 477.2,661 478,658.4 478.8,654.9 479.6,652.8 480.4,648.9 481.2,646.7 482,647.4 482.8,644.6 483.6,642.4 484.4,643.3 485.2,640.5 486,636.4 486.8,637.1 487.6,636.4 488.4,634.3 489.2,632.8 490,628.6 490.8,624.4 491.6,619.1 492.4,615.8 493.2,612.7 494,609.5 494.8,606.9 495.6,603.4 496.4,602.3 497.2,602 498,605 498.8,605.8 499.6,607.9 500.4,609.8 501.2,616.6 502,619.8 502.8,625.9 503.6,632.9 504.4,635.3 505.2,638.5 506,643.9 506.8,648.7 507.6,647.2 508.4,642.5 509.2,640.9 510,637.2 510.8,634.4 511.6,624.9 512.4,615.8 513.2,608.1 514,599.9 514.8,592.8 515.6,588.4 516.4,583.5 517.2,581.6 518,583.3 518.8,583.1 519.6,582.6 520.4,583.6 521.2,584.5 522,587.8 522.8,590.6 523.6,594 524.4,598.1 525.2,600.5 526,605.6 526.8,608 527.6,608 528.4,609.8 529.2,612.8 530,615.6 530.8,617.5 531.6,618.6 532.4,620.3 533.2,621.7 534,623 534.8,624.5 535.6,625.5 536.4,626.1 537.2,624.1 538,621.6 538.8,620.2 539.6,617.6 540.4,618.7 541.2,618 542,618.2 542.8,617.9 543.6,618.5 544.4,618.9 545.2,615.3 546,611.2 546.8,607.4 547.6,604.9 548.4,606.9 549.2,609.8 550,612.6 550.8,613.5 551.6,614.5 552.4,617.9 553.2,619.2 554,622.2 554.8,626.2 555.6,627.3 556.4,627.5 557.2,628.7 558,630.1 558.8,629.6 559.6,631.5 560.4,631.9 561.2,633.6 562,632.2 562.8,633.9 563.6,634.1 564.4,636 565.2,635.8 566,637.7 566.8,637.9 567.6,637 568.4,636.8 569.2,636.7 570,636.1 570.8,636.2 571.6,634.6 572.4,632.2 573.2,633.7 574,633.4 574.8,635.1 575.6,636.3 576.4,635.5 577.2,636.5 578,638.6 578.8,639.8 579.6,642.1 580.4,642.4 581.2,643.2 582,644.5 582.8,643.5 583.6,644 584.4,644 585.2,645.8 586,648.1 586.8,649.7 587.6,649.8 588.4,650.4 589.2,651.5 590,652.3 590.8,654.5 591.6,656 592.4,653.8 593.2,654.8 594,658.3 594.8,657 595.6,658.3 596.4,658 597.2,659.9 598,660.5 598.8,661.2 599.6,664.7 600.4,667.4 601.2,668.8 602,667 602.8,663.5 603.6,659 604.4,655.9 605.2,653.5 606,651.6 606.8,649.8 607.6,647.7 608.4,646.7 609.2,646.4 610,648.3 610.8,650 611.6,652 612.4,652.8 613.2,656.5 614,656.8 614.8,657.5 615.6,658.5 616.4,659.7 617.2,660.2 618,660.4 618.8,661 619.6,661.1 620.4,663.6 621.2,664.7 622,666.3 622.8,668.8 623.6,666.5 624.4,668.2 625.2,670.1 626,670.7 626.8,671.1 627.6,668.3 628.4,667.4 629.2,667.7 630,666.5 630.8,666.8 631.6,665.5 632.4,666.8 633.2,668.5 634,669.5 634.8,671.2 635.6,672.2 636.4,673 637.2,672 638,671.5 638.8,669.4 639.6,668.5 640.4,669.4 640.5,669.4" fill="none" stroke="#ff0000" stroke-width="2.0" stroke-linejoin="round" stroke-linecap="butt"/>
<line x1="586" y1="552.9" x2="601.7" y2="552.9" stroke="#0000ff" stroke-width="2.4"/>
<text x="603.5" y="556.5" font-size="9" text-anchor="start" fill="#111">Toward</text>
<line x1="586" y1="564" x2="601.7" y2="564" stroke="#ff0000" stroke-width="2.4"/>
<text x="603.5" y="567.6" font-size="9" text-anchor="start" fill="#111">Away</text>
</svg>
</body></html>
